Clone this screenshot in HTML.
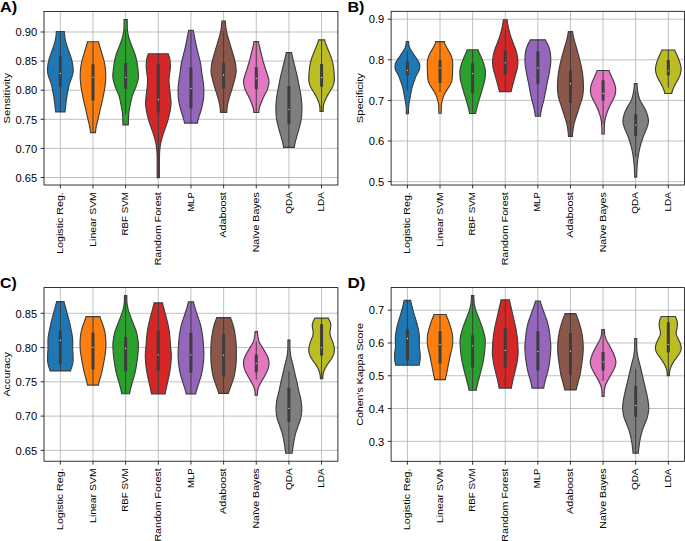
<!DOCTYPE html><html><head><meta charset="utf-8"><style>html,body{margin:0;padding:0;background:#fff;}svg{display:block;}text{font-family:"Liberation Sans",sans-serif;fill:#000;}</style></head><body>
<svg width="685" height="541" viewBox="0 0 685 541">
<rect width="685" height="541" fill="#fff"/>
<g stroke="#b0b0b0" stroke-width="0.8"><line x1="60.33" y1="11.40" x2="60.33" y2="185.00"/><line x1="92.98" y1="11.40" x2="92.98" y2="185.00"/><line x1="125.64" y1="11.40" x2="125.64" y2="185.00"/><line x1="158.29" y1="11.40" x2="158.29" y2="185.00"/><line x1="190.95" y1="11.40" x2="190.95" y2="185.00"/><line x1="223.61" y1="11.40" x2="223.61" y2="185.00"/><line x1="256.26" y1="11.40" x2="256.26" y2="185.00"/><line x1="288.92" y1="11.40" x2="288.92" y2="185.00"/><line x1="321.57" y1="11.40" x2="321.57" y2="185.00"/><line x1="44.00" y1="177.50" x2="337.90" y2="177.50"/><line x1="44.00" y1="148.40" x2="337.90" y2="148.40"/><line x1="44.00" y1="119.30" x2="337.90" y2="119.30"/><line x1="44.00" y1="90.20" x2="337.90" y2="90.20"/><line x1="44.00" y1="61.10" x2="337.90" y2="61.10"/><line x1="44.00" y1="32.00" x2="337.90" y2="32.00"/></g>
<path d="M64.31,31.50 64.34,32.30 64.39,33.11 64.45,33.91 64.53,34.72 64.62,35.52 64.72,36.33 64.83,37.13 64.95,37.94 65.08,38.74 65.23,39.55 65.40,40.36 65.59,41.16 65.79,41.97 66.02,42.77 66.26,43.58 66.51,44.38 66.76,45.19 67.02,45.99 67.29,46.80 67.55,47.60 67.82,48.41 68.10,49.21 68.38,50.02 68.67,50.82 68.97,51.62 69.27,52.43 69.57,53.23 69.86,54.04 70.15,54.84 70.43,55.65 70.70,56.45 70.96,57.26 71.20,58.06 71.44,58.87 71.67,59.67 71.88,60.48 72.07,61.28 72.25,62.09 72.42,62.90 72.56,63.70 72.70,64.50 72.82,65.31 72.92,66.12 73.01,66.92 73.08,67.72 73.13,68.53 73.16,69.34 73.17,70.14 73.14,70.94 73.08,71.75 72.99,72.56 72.88,73.36 72.73,74.16 72.55,74.97 72.33,75.78 72.07,76.58 71.79,77.39 71.49,78.19 71.19,79.00 70.89,79.80 70.59,80.61 70.31,81.41 70.02,82.22 69.75,83.02 69.49,83.83 69.25,84.63 69.04,85.44 68.84,86.24 68.67,87.05 68.51,87.85 68.35,88.66 68.20,89.46 68.04,90.27 67.89,91.07 67.73,91.88 67.57,92.68 67.41,93.49 67.25,94.29 67.10,95.09 66.96,95.90 66.82,96.70 66.70,97.51 66.58,98.31 66.47,99.12 66.37,99.92 66.27,100.73 66.17,101.54 66.07,102.34 65.98,103.15 65.88,103.95 65.79,104.76 65.69,105.56 65.59,106.37 65.50,107.17 65.40,107.98 65.31,108.78 65.21,109.59 65.13,110.39 65.05,111.20 65.00,112.00 L55.66,112.00 55.60,111.20 55.53,110.39 55.44,109.59 55.35,108.78 55.26,107.98 55.16,107.17 55.06,106.37 54.97,105.56 54.87,104.76 54.77,103.95 54.68,103.15 54.58,102.34 54.49,101.54 54.39,100.73 54.29,99.92 54.18,99.12 54.08,98.31 53.96,97.51 53.83,96.70 53.70,95.90 53.55,95.09 53.40,94.29 53.25,93.49 53.09,92.68 52.93,91.88 52.77,91.07 52.61,90.27 52.46,89.46 52.30,88.66 52.15,87.85 51.99,87.05 51.81,86.24 51.62,85.44 51.40,84.63 51.16,83.83 50.90,83.02 50.63,82.22 50.35,81.41 50.06,80.61 49.77,79.80 49.47,79.00 49.17,78.19 48.87,77.39 48.59,76.58 48.33,75.78 48.11,74.97 47.92,74.16 47.78,73.36 47.66,72.56 47.57,71.75 47.52,70.94 47.49,70.14 47.49,69.34 47.52,68.53 47.58,67.72 47.65,66.92 47.74,66.12 47.84,65.31 47.96,64.50 48.09,63.70 48.24,62.90 48.40,62.09 48.58,61.28 48.78,60.48 48.99,59.67 49.21,58.87 49.45,58.06 49.70,57.26 49.96,56.45 50.23,55.65 50.51,54.84 50.79,54.04 51.09,53.23 51.39,52.43 51.69,51.62 51.99,50.82 52.28,50.02 52.56,49.21 52.83,48.41 53.10,47.60 53.37,46.80 53.63,45.99 53.89,45.19 54.15,44.38 54.40,43.58 54.64,42.77 54.86,41.97 55.07,41.16 55.26,40.36 55.43,39.55 55.57,38.74 55.71,37.94 55.83,37.13 55.94,36.33 56.04,35.52 56.13,34.72 56.20,33.91 56.27,33.11 56.31,32.30 56.34,31.50Z" fill="#1f77b4" stroke="#3d3d3d" stroke-width="1.15" stroke-linejoin="miter"/>
<line x1="60.33" y1="31.50" x2="60.33" y2="112.00" stroke="#3d3d3d" stroke-width="1.0"/>
<rect x="58.83" y="55.70" width="3" height="30.90" fill="#3d3d3d"/>
<circle cx="60.33" cy="73.40" r="0.65" fill="#e8e8e8"/>
<path d="M98.55,41.75 98.70,42.55 98.88,43.36 99.10,44.16 99.33,44.97 99.56,45.77 99.80,46.57 100.04,47.38 100.28,48.18 100.52,48.99 100.76,49.79 101.00,50.59 101.24,51.40 101.48,52.20 101.71,53.01 101.95,53.81 102.19,54.61 102.43,55.42 102.68,56.22 102.92,57.03 103.16,57.83 103.40,58.63 103.62,59.44 103.84,60.24 104.04,61.05 104.23,61.85 104.41,62.65 104.57,63.46 104.73,64.26 104.88,65.07 105.02,65.87 105.15,66.67 105.26,67.48 105.35,68.28 105.43,69.09 105.50,69.89 105.56,70.69 105.60,71.50 105.65,72.30 105.68,73.11 105.71,73.91 105.74,74.71 105.76,75.52 105.76,76.32 105.76,77.13 105.74,77.93 105.71,78.73 105.67,79.54 105.62,80.34 105.56,81.15 105.49,81.95 105.42,82.75 105.34,83.56 105.25,84.36 105.16,85.17 105.06,85.97 104.95,86.77 104.82,87.58 104.69,88.38 104.56,89.18 104.41,89.99 104.27,90.79 104.12,91.60 103.97,92.40 103.82,93.20 103.67,94.01 103.51,94.81 103.36,95.62 103.20,96.42 103.04,97.22 102.87,98.03 102.70,98.83 102.53,99.64 102.35,100.44 102.17,101.24 101.99,102.05 101.79,102.85 101.60,103.66 101.40,104.46 101.20,105.26 101.00,106.07 100.81,106.87 100.62,107.68 100.43,108.48 100.25,109.28 100.07,110.09 99.90,110.89 99.73,111.70 99.56,112.50 99.38,113.30 99.21,114.11 99.03,114.91 98.85,115.72 98.66,116.52 98.47,117.32 98.27,118.13 98.07,118.93 97.88,119.74 97.68,120.54 97.48,121.34 97.29,122.15 97.09,122.95 96.90,123.76 96.71,124.56 96.52,125.36 96.35,126.17 96.18,126.97 96.03,127.78 95.91,128.58 95.80,129.38 95.70,130.19 95.63,130.99 95.57,131.80 95.53,132.60 L90.44,132.60 90.40,131.80 90.34,130.99 90.26,130.19 90.17,129.38 90.06,128.58 89.93,127.78 89.79,126.97 89.62,126.17 89.44,125.36 89.26,124.56 89.07,123.76 88.87,122.95 88.68,122.15 88.49,121.34 88.29,120.54 88.09,119.74 87.89,118.93 87.69,118.13 87.50,117.32 87.31,116.52 87.12,115.72 86.94,114.91 86.76,114.11 86.58,113.30 86.41,112.50 86.24,111.70 86.07,110.89 85.89,110.09 85.72,109.28 85.54,108.48 85.35,107.68 85.16,106.87 84.97,106.07 84.77,105.26 84.57,104.46 84.37,103.66 84.17,102.85 83.98,102.05 83.79,101.24 83.61,100.44 83.44,99.64 83.26,98.83 83.09,98.03 82.93,97.22 82.77,96.42 82.61,95.62 82.45,94.81 82.30,94.01 82.15,93.20 82.00,92.40 81.85,91.60 81.70,90.79 81.55,89.99 81.41,89.18 81.27,88.38 81.14,87.58 81.02,86.77 80.91,85.97 80.81,85.17 80.71,84.36 80.63,83.56 80.55,82.75 80.48,81.95 80.41,81.15 80.35,80.34 80.30,79.54 80.26,78.73 80.23,77.93 80.21,77.13 80.20,76.32 80.21,75.52 80.23,74.71 80.25,73.91 80.28,73.11 80.32,72.30 80.36,71.50 80.41,70.69 80.47,69.89 80.53,69.09 80.61,68.28 80.71,67.48 80.82,66.67 80.95,65.87 81.08,65.07 81.23,64.26 81.39,63.46 81.56,62.65 81.74,61.85 81.93,61.05 82.13,60.24 82.34,59.44 82.57,58.63 82.81,57.83 83.05,57.03 83.29,56.22 83.53,55.42 83.77,54.61 84.01,53.81 84.25,53.01 84.49,52.20 84.73,51.40 84.97,50.59 85.21,49.79 85.45,48.99 85.69,48.18 85.93,47.38 86.17,46.57 86.40,45.77 86.64,44.97 86.87,44.16 87.08,43.36 87.27,42.55 87.41,41.75Z" fill="#ff7f0e" stroke="#3d3d3d" stroke-width="1.15" stroke-linejoin="miter"/>
<line x1="92.98" y1="41.75" x2="92.98" y2="132.60" stroke="#3d3d3d" stroke-width="1.0"/>
<rect x="91.48" y="64.30" width="3" height="36.30" fill="#3d3d3d"/>
<circle cx="92.98" cy="77.30" r="0.65" fill="#e8e8e8"/>
<path d="M127.24,19.55 127.24,20.35 127.24,21.16 127.24,21.96 127.24,22.76 127.24,23.57 127.24,24.37 127.24,25.17 127.25,25.98 127.26,26.78 127.28,27.58 127.32,28.39 127.38,29.19 127.45,29.99 127.55,30.80 127.67,31.60 127.80,32.40 127.93,33.21 128.08,34.01 128.24,34.82 128.40,35.62 128.58,36.42 128.78,37.23 129.00,38.03 129.23,38.83 129.49,39.64 129.76,40.44 130.04,41.24 130.33,42.05 130.62,42.85 130.92,43.65 131.22,44.46 131.52,45.26 131.84,46.06 132.16,46.87 132.48,47.67 132.82,48.47 133.15,49.28 133.48,50.08 133.80,50.88 134.11,51.69 134.40,52.49 134.68,53.29 134.94,54.10 135.19,54.90 135.42,55.70 135.65,56.51 135.87,57.31 136.08,58.11 136.28,58.92 136.47,59.72 136.64,60.53 136.80,61.33 136.95,62.13 137.09,62.94 137.22,63.74 137.34,64.54 137.45,65.35 137.55,66.15 137.65,66.95 137.75,67.76 137.84,68.56 137.93,69.36 138.01,70.17 138.10,70.97 138.18,71.77 138.27,72.58 138.34,73.38 138.41,74.18 138.45,74.99 138.47,75.79 138.45,76.59 138.40,77.40 138.30,78.20 138.17,79.00 138.01,79.81 137.82,80.61 137.61,81.41 137.39,82.22 137.15,83.02 136.90,83.82 136.66,84.63 136.40,85.43 136.13,86.24 135.85,87.04 135.55,87.84 135.23,88.65 134.89,89.45 134.54,90.25 134.18,91.06 133.83,91.86 133.48,92.66 133.15,93.47 132.84,94.27 132.55,95.07 132.29,95.88 132.05,96.68 131.83,97.48 131.62,98.29 131.43,99.09 131.24,99.89 131.06,100.70 130.89,101.50 130.73,102.30 130.57,103.11 130.41,103.91 130.26,104.71 130.11,105.52 129.96,106.32 129.81,107.12 129.66,107.93 129.51,108.73 129.37,109.53 129.23,110.34 129.10,111.14 128.98,111.95 128.87,112.75 128.78,113.55 128.71,114.36 128.65,115.16 128.60,115.96 128.56,116.77 128.52,117.57 128.49,118.37 128.46,119.18 128.43,119.98 128.41,120.78 128.39,121.59 128.37,122.39 128.36,123.19 128.35,124.00 128.34,124.80 L122.93,124.80 122.93,124.00 122.92,123.19 122.91,122.39 122.89,121.59 122.87,120.78 122.85,119.98 122.82,119.18 122.79,118.37 122.76,117.57 122.72,116.77 122.68,115.96 122.63,115.16 122.57,114.36 122.49,113.55 122.41,112.75 122.30,111.95 122.18,111.14 122.05,110.34 121.91,109.53 121.77,108.73 121.62,107.93 121.47,107.12 121.32,106.32 121.17,105.52 121.02,104.71 120.87,103.91 120.71,103.11 120.55,102.30 120.39,101.50 120.21,100.70 120.04,99.89 119.85,99.09 119.65,98.29 119.45,97.48 119.23,96.68 118.99,95.88 118.73,95.07 118.44,94.27 118.13,93.47 117.80,92.66 117.45,91.86 117.10,91.06 116.74,90.25 116.39,89.45 116.05,88.65 115.72,87.84 115.42,87.04 115.14,86.24 114.88,85.43 114.62,84.63 114.37,83.82 114.13,83.02 113.89,82.22 113.67,81.41 113.46,80.61 113.27,79.81 113.11,79.00 112.98,78.20 112.88,77.40 112.83,76.59 112.81,75.79 112.82,74.99 112.87,74.18 112.93,73.38 113.01,72.58 113.10,71.77 113.18,70.97 113.27,70.17 113.35,69.36 113.44,68.56 113.53,67.76 113.62,66.95 113.72,66.15 113.83,65.35 113.94,64.54 114.06,63.74 114.19,62.94 114.32,62.13 114.47,61.33 114.64,60.53 114.81,59.72 115.00,58.92 115.20,58.11 115.41,57.31 115.63,56.51 115.85,55.70 116.09,54.90 116.34,54.10 116.60,53.29 116.88,52.49 117.17,51.69 117.48,50.88 117.80,50.08 118.13,49.28 118.46,48.47 118.79,47.67 119.12,46.87 119.44,46.06 119.75,45.26 120.06,44.46 120.36,43.65 120.65,42.85 120.95,42.05 121.24,41.24 121.52,40.44 121.79,39.64 122.05,38.83 122.28,38.03 122.50,37.23 122.69,36.42 122.87,35.62 123.04,34.82 123.20,34.01 123.34,33.21 123.48,32.40 123.61,31.60 123.72,30.80 123.82,29.99 123.90,29.19 123.96,28.39 124.00,27.58 124.02,26.78 124.03,25.98 124.04,25.17 124.04,24.37 124.04,23.57 124.04,22.76 124.04,21.96 124.04,21.16 124.04,20.35 124.04,19.55Z" fill="#2ca02c" stroke="#3d3d3d" stroke-width="1.15" stroke-linejoin="miter"/>
<line x1="125.64" y1="29.30" x2="125.64" y2="113.90" stroke="#3d3d3d" stroke-width="1.0"/>
<rect x="124.14" y="62.90" width="3" height="26.10" fill="#3d3d3d"/>
<circle cx="125.64" cy="77.30" r="0.65" fill="#e8e8e8"/>
<path d="M168.26,53.75 168.47,54.55 168.73,55.36 169.01,56.16 169.28,56.97 169.52,57.77 169.71,58.58 169.86,59.38 169.98,60.18 170.07,60.99 170.15,61.79 170.21,62.60 170.27,63.40 170.31,64.20 170.34,65.01 170.36,65.81 170.35,66.62 170.33,67.42 170.28,68.23 170.22,69.03 170.13,69.83 170.04,70.64 169.93,71.44 169.82,72.25 169.72,73.05 169.61,73.86 169.51,74.66 169.40,75.46 169.30,76.27 169.20,77.07 169.11,77.88 169.03,78.68 168.98,79.49 168.95,80.29 168.95,81.09 168.97,81.90 169.02,82.70 169.08,83.51 169.16,84.31 169.24,85.11 169.33,85.92 169.42,86.72 169.50,87.53 169.59,88.33 169.69,89.14 169.78,89.94 169.88,90.74 169.98,91.55 170.07,92.35 170.16,93.16 170.25,93.96 170.33,94.77 170.41,95.57 170.49,96.37 170.57,97.18 170.65,97.98 170.74,98.79 170.82,99.59 170.91,100.39 170.98,101.20 171.02,102.00 171.03,102.81 171.01,103.61 170.97,104.42 170.90,105.22 170.82,106.02 170.73,106.83 170.63,107.63 170.52,108.44 170.40,109.24 170.28,110.05 170.15,110.85 170.00,111.65 169.84,112.46 169.67,113.26 169.49,114.07 169.30,114.87 169.11,115.67 168.91,116.48 168.71,117.28 168.50,118.09 168.28,118.89 168.05,119.70 167.81,120.50 167.57,121.30 167.32,122.11 167.07,122.91 166.81,123.72 166.54,124.52 166.26,125.33 165.98,126.13 165.69,126.93 165.40,127.74 165.11,128.54 164.82,129.35 164.53,130.15 164.25,130.96 163.97,131.76 163.70,132.56 163.43,133.37 163.16,134.17 162.90,134.98 162.65,135.78 162.40,136.58 162.16,137.39 161.94,138.19 161.72,139.00 161.51,139.80 161.31,140.61 161.11,141.41 160.93,142.21 160.76,143.02 160.60,143.82 160.46,144.63 160.33,145.43 160.21,146.24 160.11,147.04 160.01,147.84 159.92,148.65 159.84,149.45 159.77,150.26 159.71,151.06 159.65,151.86 159.61,152.67 159.57,153.47 159.53,154.28 159.50,155.08 159.48,155.89 159.45,156.69 159.43,157.49 159.42,158.30 159.41,159.10 159.40,159.91 159.40,160.71 159.40,161.52 159.39,162.32 159.39,163.12 159.39,163.93 159.39,164.73 159.39,165.54 159.39,166.34 159.39,167.15 159.39,167.95 159.39,168.75 159.39,169.56 159.39,170.36 159.39,171.17 159.39,171.97 159.39,172.77 159.39,173.58 159.39,174.38 159.39,175.19 159.39,175.99 159.39,176.80 159.39,177.60 L157.19,177.60 157.19,176.80 157.19,175.99 157.19,175.19 157.19,174.38 157.19,173.58 157.19,172.77 157.19,171.97 157.19,171.17 157.19,170.36 157.19,169.56 157.19,168.75 157.19,167.95 157.19,167.15 157.19,166.34 157.19,165.54 157.19,164.73 157.19,163.93 157.19,163.12 157.19,162.32 157.19,161.52 157.19,160.71 157.19,159.91 157.18,159.10 157.17,158.30 157.16,157.49 157.14,156.69 157.11,155.89 157.09,155.08 157.06,154.28 157.02,153.47 156.98,152.67 156.94,151.86 156.88,151.06 156.82,150.26 156.75,149.45 156.67,148.65 156.58,147.84 156.48,147.04 156.38,146.24 156.26,145.43 156.13,144.63 155.99,143.82 155.83,143.02 155.66,142.21 155.48,141.41 155.28,140.61 155.08,139.80 154.87,139.00 154.65,138.19 154.42,137.39 154.19,136.58 153.94,135.78 153.69,134.98 153.43,134.17 153.16,133.37 152.89,132.56 152.61,131.76 152.34,130.96 152.06,130.15 151.77,129.35 151.48,128.54 151.19,127.74 150.90,126.93 150.61,126.13 150.32,125.33 150.05,124.52 149.78,123.72 149.52,122.91 149.27,122.11 149.02,121.30 148.78,120.50 148.54,119.70 148.31,118.89 148.09,118.09 147.88,117.28 147.67,116.48 147.48,115.67 147.28,114.87 147.10,114.07 146.92,113.26 146.75,112.46 146.59,111.65 146.44,110.85 146.31,110.05 146.19,109.24 146.07,108.44 145.96,107.63 145.86,106.83 145.77,106.02 145.69,105.22 145.62,104.42 145.58,103.61 145.56,102.81 145.57,102.00 145.61,101.20 145.68,100.39 145.76,99.59 145.85,98.79 145.94,97.98 146.02,97.18 146.10,96.37 146.18,95.57 146.26,94.77 146.34,93.96 146.43,93.16 146.52,92.35 146.61,91.55 146.71,90.74 146.81,89.94 146.90,89.14 146.99,88.33 147.09,87.53 147.17,86.72 147.26,85.92 147.35,85.11 147.43,84.31 147.50,83.51 147.57,82.70 147.61,81.90 147.64,81.09 147.64,80.29 147.61,79.49 147.56,78.68 147.48,77.88 147.39,77.07 147.29,76.27 147.19,75.46 147.08,74.66 146.98,73.86 146.87,73.05 146.76,72.25 146.66,71.44 146.55,70.64 146.46,69.83 146.37,69.03 146.30,68.23 146.26,67.42 146.23,66.62 146.23,65.81 146.25,65.01 146.28,64.20 146.32,63.40 146.38,62.60 146.44,61.79 146.52,60.99 146.61,60.18 146.73,59.38 146.88,58.58 147.07,57.77 147.31,56.97 147.58,56.16 147.86,55.36 148.12,54.55 148.33,53.75Z" fill="#d62728" stroke="#3d3d3d" stroke-width="1.15" stroke-linejoin="miter"/>
<line x1="158.29" y1="53.75" x2="158.29" y2="177.60" stroke="#3d3d3d" stroke-width="1.0"/>
<rect x="156.79" y="63.90" width="3" height="48.70" fill="#3d3d3d"/>
<circle cx="158.29" cy="99.50" r="0.65" fill="#e8e8e8"/>
<path d="M193.31,30.25 193.41,31.05 193.53,31.85 193.68,32.65 193.83,33.45 193.99,34.25 194.14,35.05 194.30,35.85 194.45,36.65 194.61,37.45 194.76,38.25 194.92,39.05 195.07,39.86 195.23,40.66 195.39,41.46 195.54,42.26 195.71,43.06 195.87,43.86 196.04,44.66 196.21,45.46 196.39,46.26 196.58,47.06 196.76,47.86 196.95,48.66 197.14,49.46 197.34,50.26 197.53,51.06 197.73,51.86 197.93,52.66 198.12,53.46 198.32,54.26 198.52,55.06 198.72,55.86 198.92,56.66 199.13,57.46 199.34,58.27 199.55,59.07 199.75,59.87 199.95,60.67 200.13,61.47 200.31,62.27 200.48,63.07 200.63,63.87 200.77,64.67 200.90,65.47 201.01,66.27 201.12,67.07 201.22,67.87 201.32,68.67 201.41,69.47 201.50,70.27 201.59,71.07 201.69,71.87 201.79,72.67 201.89,73.47 202.00,74.27 202.12,75.07 202.25,75.87 202.38,76.68 202.51,77.48 202.64,78.28 202.77,79.08 202.89,79.88 203.00,80.68 203.11,81.48 203.22,82.28 203.31,83.08 203.41,83.88 203.50,84.68 203.59,85.48 203.66,86.28 203.73,87.08 203.78,87.88 203.81,88.68 203.83,89.48 203.83,90.28 203.83,91.08 203.82,91.88 203.80,92.68 203.78,93.48 203.76,94.28 203.73,95.08 203.69,95.89 203.65,96.69 203.60,97.49 203.53,98.29 203.44,99.09 203.33,99.89 203.21,100.69 203.07,101.49 202.92,102.29 202.77,103.09 202.61,103.89 202.44,104.69 202.26,105.49 202.08,106.29 201.88,107.09 201.68,107.89 201.46,108.69 201.24,109.49 201.01,110.29 200.78,111.09 200.54,111.89 200.30,112.69 200.05,113.49 199.80,114.30 199.54,115.10 199.28,115.90 199.03,116.70 198.78,117.50 198.54,118.30 198.31,119.10 198.09,119.90 197.88,120.70 197.68,121.50 197.52,122.30 197.40,123.10 L184.50,123.10 184.38,122.30 184.22,121.50 184.02,120.70 183.81,119.90 183.59,119.10 183.36,118.30 183.12,117.50 182.87,116.70 182.62,115.90 182.36,115.10 182.10,114.30 181.85,113.49 181.60,112.69 181.36,111.89 181.12,111.09 180.89,110.29 180.66,109.49 180.44,108.69 180.22,107.89 180.02,107.09 179.82,106.29 179.64,105.49 179.46,104.69 179.29,103.89 179.13,103.09 178.98,102.29 178.83,101.49 178.69,100.69 178.57,99.89 178.46,99.09 178.37,98.29 178.30,97.49 178.25,96.69 178.21,95.89 178.17,95.08 178.14,94.28 178.12,93.48 178.10,92.68 178.08,91.88 178.07,91.08 178.07,90.28 178.07,89.48 178.09,88.68 178.12,87.88 178.17,87.08 178.24,86.28 178.31,85.48 178.40,84.68 178.49,83.88 178.59,83.08 178.68,82.28 178.79,81.48 178.90,80.68 179.01,79.88 179.13,79.08 179.26,78.28 179.39,77.48 179.52,76.68 179.65,75.87 179.78,75.07 179.90,74.27 180.01,73.47 180.11,72.67 180.21,71.87 180.31,71.07 180.40,70.27 180.49,69.47 180.58,68.67 180.68,67.87 180.78,67.07 180.89,66.27 181.00,65.47 181.13,64.67 181.27,63.87 181.42,63.07 181.59,62.27 181.77,61.47 181.95,60.67 182.15,59.87 182.35,59.07 182.56,58.27 182.77,57.46 182.98,56.66 183.18,55.86 183.38,55.06 183.58,54.26 183.78,53.46 183.97,52.66 184.17,51.86 184.37,51.06 184.56,50.26 184.76,49.46 184.95,48.66 185.14,47.86 185.32,47.06 185.51,46.26 185.69,45.46 185.86,44.66 186.03,43.86 186.19,43.06 186.36,42.26 186.51,41.46 186.67,40.66 186.83,39.86 186.98,39.05 187.14,38.25 187.29,37.45 187.45,36.65 187.60,35.85 187.76,35.05 187.91,34.25 188.07,33.45 188.22,32.65 188.37,31.85 188.49,31.05 188.59,30.25Z" fill="#9467bd" stroke="#3d3d3d" stroke-width="1.15" stroke-linejoin="miter"/>
<line x1="190.95" y1="30.25" x2="190.95" y2="123.10" stroke="#3d3d3d" stroke-width="1.0"/>
<rect x="189.45" y="67.30" width="3" height="41.10" fill="#3d3d3d"/>
<circle cx="190.95" cy="88.40" r="0.65" fill="#e8e8e8"/>
<path d="M225.33,20.95 225.35,21.75 225.39,22.55 225.43,23.36 225.49,24.16 225.56,24.96 225.64,25.76 225.72,26.57 225.83,27.37 225.94,28.17 226.07,28.97 226.22,29.77 226.38,30.58 226.55,31.38 226.72,32.18 226.91,32.98 227.09,33.79 227.29,34.59 227.48,35.39 227.69,36.19 227.91,36.99 228.13,37.80 228.36,38.60 228.59,39.40 228.83,40.20 229.06,41.00 229.30,41.81 229.54,42.61 229.78,43.41 230.02,44.21 230.27,45.02 230.52,45.82 230.76,46.62 231.01,47.42 231.26,48.22 231.50,49.03 231.74,49.83 231.98,50.63 232.22,51.43 232.46,52.24 232.70,53.04 232.94,53.84 233.17,54.64 233.39,55.44 233.62,56.25 233.84,57.05 234.05,57.85 234.27,58.65 234.49,59.46 234.70,60.26 234.90,61.06 235.10,61.86 235.27,62.66 235.43,63.47 235.57,64.27 235.69,65.07 235.79,65.87 235.88,66.67 235.96,67.48 236.02,68.28 236.08,69.08 236.13,69.88 236.15,70.69 236.15,71.49 236.12,72.29 236.05,73.09 235.95,73.89 235.81,74.70 235.65,75.50 235.47,76.30 235.28,77.10 235.08,77.91 234.88,78.71 234.68,79.51 234.48,80.31 234.28,81.11 234.07,81.92 233.85,82.72 233.63,83.52 233.41,84.32 233.18,85.13 232.94,85.93 232.71,86.73 232.47,87.53 232.22,88.33 231.97,89.14 231.72,89.94 231.46,90.74 231.20,91.54 230.95,92.35 230.69,93.15 230.44,93.95 230.19,94.75 229.94,95.55 229.70,96.36 229.45,97.16 229.21,97.96 228.97,98.76 228.74,99.56 228.52,100.37 228.31,101.17 228.12,101.97 227.94,102.77 227.77,103.58 227.61,104.38 227.46,105.18 227.32,105.98 227.20,106.78 227.09,107.59 227.00,108.39 226.93,109.19 226.87,109.99 226.82,110.80 226.79,111.60 226.77,112.40 L220.44,112.40 220.42,111.60 220.39,110.80 220.34,109.99 220.29,109.19 220.21,108.39 220.12,107.59 220.01,106.78 219.89,105.98 219.75,105.18 219.60,104.38 219.44,103.58 219.27,102.77 219.09,101.97 218.90,101.17 218.69,100.37 218.47,99.56 218.24,98.76 218.01,97.96 217.76,97.16 217.52,96.36 217.27,95.55 217.02,94.75 216.77,93.95 216.52,93.15 216.26,92.35 216.01,91.54 215.75,90.74 215.49,89.94 215.24,89.14 214.99,88.33 214.74,87.53 214.50,86.73 214.27,85.93 214.03,85.13 213.80,84.32 213.58,83.52 213.36,82.72 213.14,81.92 212.93,81.11 212.73,80.31 212.53,79.51 212.33,78.71 212.13,77.91 211.93,77.10 211.74,76.30 211.56,75.50 211.40,74.70 211.26,73.89 211.16,73.09 211.09,72.29 211.06,71.49 211.06,70.69 211.09,69.88 211.13,69.08 211.19,68.28 211.26,67.48 211.33,66.67 211.42,65.87 211.53,65.07 211.64,64.27 211.78,63.47 211.94,62.66 212.11,61.86 212.31,61.06 212.51,60.26 212.72,59.46 212.94,58.65 213.16,57.85 213.37,57.05 213.59,56.25 213.82,55.44 214.04,54.64 214.28,53.84 214.51,53.04 214.75,52.24 214.99,51.43 215.23,50.63 215.47,49.83 215.71,49.03 215.96,48.22 216.20,47.42 216.45,46.62 216.69,45.82 216.94,45.02 217.19,44.21 217.43,43.41 217.67,42.61 217.91,41.81 218.15,41.00 218.39,40.20 218.62,39.40 218.85,38.60 219.08,37.80 219.30,36.99 219.52,36.19 219.73,35.39 219.93,34.59 220.12,33.79 220.31,32.98 220.49,32.18 220.67,31.38 220.83,30.58 220.99,29.77 221.14,28.97 221.27,28.17 221.39,27.37 221.49,26.57 221.57,25.76 221.65,24.96 221.72,24.16 221.78,23.36 221.82,22.55 221.86,21.75 221.88,20.95Z" fill="#8c564b" stroke="#3d3d3d" stroke-width="1.15" stroke-linejoin="miter"/>
<line x1="223.61" y1="30.90" x2="223.61" y2="112.40" stroke="#3d3d3d" stroke-width="1.0"/>
<rect x="222.11" y="62.90" width="3" height="25.60" fill="#3d3d3d"/>
<circle cx="223.61" cy="75.00" r="0.65" fill="#e8e8e8"/>
<path d="M258.57,41.55 258.67,42.36 258.79,43.16 258.94,43.97 259.11,44.77 259.28,45.58 259.46,46.39 259.64,47.19 259.84,48.00 260.03,48.81 260.24,49.61 260.45,50.42 260.65,51.22 260.86,52.03 261.06,52.84 261.26,53.64 261.46,54.45 261.65,55.26 261.84,56.06 262.04,56.87 262.23,57.67 262.43,58.48 262.63,59.29 262.85,60.09 263.06,60.90 263.29,61.71 263.52,62.51 263.76,63.32 264.00,64.12 264.24,64.93 264.49,65.74 264.74,66.54 264.99,67.35 265.25,68.16 265.51,68.96 265.77,69.77 266.04,70.58 266.31,71.38 266.58,72.19 266.84,72.99 267.09,73.80 267.34,74.61 267.60,75.41 267.85,76.22 268.10,77.03 268.33,77.83 268.55,78.64 268.73,79.44 268.86,80.25 268.94,81.06 268.96,81.86 268.92,82.67 268.84,83.47 268.73,84.28 268.58,85.09 268.40,85.89 268.21,86.70 267.99,87.51 267.75,88.31 267.49,89.12 267.18,89.92 266.84,90.73 266.45,91.54 266.03,92.34 265.60,93.15 265.16,93.96 264.73,94.76 264.31,95.57 263.91,96.38 263.53,97.18 263.17,97.99 262.81,98.79 262.47,99.60 262.13,100.41 261.80,101.21 261.47,102.02 261.16,102.82 260.85,103.63 260.54,104.44 260.24,105.24 259.95,106.05 259.68,106.86 259.44,107.66 259.23,108.47 259.07,109.28 258.94,110.08 258.85,110.89 258.79,111.69 258.75,112.50 L253.78,112.50 253.74,111.69 253.67,110.89 253.58,110.08 253.45,109.28 253.29,108.47 253.08,107.66 252.84,106.86 252.57,106.05 252.28,105.24 251.98,104.44 251.67,103.63 251.36,102.82 251.05,102.02 250.73,101.21 250.40,100.41 250.06,99.60 249.71,98.79 249.35,97.99 248.99,97.18 248.61,96.38 248.21,95.57 247.79,94.76 247.36,93.96 246.92,93.15 246.49,92.34 246.07,91.54 245.69,90.73 245.34,89.92 245.03,89.12 244.77,88.31 244.53,87.51 244.32,86.70 244.12,85.89 243.95,85.09 243.80,84.28 243.68,83.47 243.60,82.67 243.56,81.86 243.58,81.06 243.66,80.25 243.79,79.44 243.97,78.64 244.19,77.83 244.43,77.03 244.68,76.22 244.93,75.41 245.18,74.61 245.43,73.80 245.69,72.99 245.95,72.19 246.21,71.38 246.48,70.58 246.75,69.77 247.01,68.96 247.28,68.16 247.53,67.35 247.79,66.54 248.04,65.74 248.28,64.93 248.53,64.12 248.77,63.32 249.00,62.51 249.23,61.71 249.46,60.90 249.68,60.09 249.89,59.29 250.09,58.48 250.29,57.67 250.49,56.87 250.68,56.06 250.87,55.26 251.07,54.45 251.26,53.64 251.46,52.84 251.66,52.03 251.87,51.22 252.08,50.42 252.28,49.61 252.49,48.81 252.69,48.00 252.88,47.19 253.07,46.39 253.24,45.58 253.42,44.77 253.58,43.97 253.73,43.16 253.85,42.36 253.95,41.55Z" fill="#e377c2" stroke="#3d3d3d" stroke-width="1.15" stroke-linejoin="miter"/>
<line x1="256.26" y1="41.55" x2="256.26" y2="112.50" stroke="#3d3d3d" stroke-width="1.0"/>
<rect x="254.76" y="67.20" width="3" height="22.00" fill="#3d3d3d"/>
<circle cx="256.26" cy="78.40" r="0.65" fill="#e8e8e8"/>
<path d="M291.56,52.55 291.67,53.35 291.82,54.16 292.00,54.96 292.19,55.77 292.38,56.57 292.57,57.37 292.77,58.18 292.96,58.98 293.16,59.78 293.36,60.59 293.56,61.39 293.76,62.20 293.96,63.00 294.16,63.80 294.36,64.61 294.56,65.41 294.75,66.21 294.95,67.02 295.15,67.82 295.35,68.63 295.55,69.43 295.74,70.23 295.94,71.04 296.14,71.84 296.34,72.65 296.53,73.45 296.72,74.25 296.91,75.06 297.10,75.86 297.28,76.66 297.46,77.47 297.63,78.27 297.80,79.08 297.96,79.88 298.12,80.68 298.28,81.49 298.43,82.29 298.58,83.09 298.74,83.90 298.89,84.70 299.04,85.51 299.19,86.31 299.34,87.11 299.50,87.92 299.66,88.72 299.82,89.53 299.98,90.33 300.14,91.13 300.29,91.94 300.44,92.74 300.59,93.54 300.72,94.35 300.85,95.15 300.97,95.96 301.07,96.76 301.17,97.56 301.27,98.37 301.35,99.17 301.43,99.97 301.51,100.78 301.58,101.58 301.65,102.39 301.71,103.19 301.77,103.99 301.83,104.80 301.88,105.60 301.91,106.41 301.94,107.21 301.94,108.01 301.94,108.82 301.93,109.62 301.91,110.42 301.88,111.23 301.84,112.03 301.80,112.84 301.76,113.64 301.71,114.44 301.65,115.25 301.59,116.05 301.52,116.86 301.44,117.66 301.34,118.46 301.23,119.27 301.09,120.07 300.94,120.87 300.76,121.68 300.58,122.48 300.39,123.29 300.19,124.09 299.99,124.89 299.79,125.70 299.59,126.50 299.38,127.30 299.18,128.11 298.96,128.91 298.74,129.72 298.51,130.52 298.28,131.32 298.05,132.13 297.82,132.93 297.58,133.74 297.35,134.54 297.12,135.34 296.89,136.15 296.66,136.95 296.44,137.75 296.21,138.56 295.98,139.36 295.77,140.17 295.55,140.97 295.35,141.77 295.16,142.58 294.98,143.38 294.81,144.18 294.65,144.99 294.52,145.79 294.40,146.60 294.32,147.40 L283.52,147.40 283.43,146.60 283.32,145.79 283.18,144.99 283.03,144.18 282.86,143.38 282.68,142.58 282.48,141.77 282.28,140.97 282.07,140.17 281.85,139.36 281.62,138.56 281.40,137.75 281.17,136.95 280.94,136.15 280.71,135.34 280.48,134.54 280.25,133.74 280.02,132.93 279.78,132.13 279.55,131.32 279.32,130.52 279.09,129.72 278.87,128.91 278.66,128.11 278.45,127.30 278.24,126.50 278.04,125.70 277.84,124.89 277.64,124.09 277.44,123.29 277.25,122.48 277.07,121.68 276.90,120.87 276.74,120.07 276.61,119.27 276.49,118.46 276.39,117.66 276.31,116.86 276.24,116.05 276.18,115.25 276.13,114.44 276.08,113.64 276.03,112.84 275.99,112.03 275.96,111.23 275.93,110.42 275.91,109.62 275.89,108.82 275.89,108.01 275.90,107.21 275.92,106.41 275.96,105.60 276.00,104.80 276.06,103.99 276.12,103.19 276.19,102.39 276.25,101.58 276.33,100.78 276.40,99.97 276.48,99.17 276.57,98.37 276.66,97.56 276.76,96.76 276.87,95.96 276.98,95.15 277.11,94.35 277.25,93.54 277.39,92.74 277.54,91.94 277.70,91.13 277.86,90.33 278.02,89.53 278.18,88.72 278.33,87.92 278.49,87.11 278.64,86.31 278.80,85.51 278.95,84.70 279.10,83.90 279.25,83.09 279.40,82.29 279.56,81.49 279.71,80.68 279.87,79.88 280.04,79.08 280.20,78.27 280.38,77.47 280.55,76.66 280.73,75.86 280.92,75.06 281.11,74.25 281.30,73.45 281.50,72.65 281.69,71.84 281.89,71.04 282.09,70.23 282.29,69.43 282.49,68.63 282.68,67.82 282.88,67.02 283.08,66.21 283.28,65.41 283.48,64.61 283.68,63.80 283.88,63.00 284.08,62.20 284.28,61.39 284.47,60.59 284.67,59.78 284.87,58.98 285.06,58.18 285.26,57.37 285.45,56.57 285.65,55.77 285.83,54.96 286.01,54.16 286.16,53.35 286.28,52.55Z" fill="#7f7f7f" stroke="#3d3d3d" stroke-width="1.15" stroke-linejoin="miter"/>
<line x1="288.92" y1="52.55" x2="288.92" y2="147.40" stroke="#3d3d3d" stroke-width="1.0"/>
<rect x="287.42" y="86.00" width="3" height="38.10" fill="#3d3d3d"/>
<circle cx="288.92" cy="109.30" r="0.65" fill="#e8e8e8"/>
<path d="M324.65,39.85 324.81,40.66 325.02,41.46 325.26,42.27 325.52,43.07 325.80,43.88 326.10,44.68 326.40,45.49 326.71,46.29 327.04,47.10 327.37,47.90 327.70,48.71 328.03,49.51 328.36,50.32 328.69,51.12 329.02,51.93 329.35,52.73 329.67,53.54 330.00,54.34 330.32,55.15 330.63,55.95 330.93,56.76 331.21,57.56 331.48,58.37 331.74,59.17 331.97,59.98 332.20,60.78 332.41,61.59 332.62,62.39 332.81,63.20 332.99,64.00 333.15,64.81 333.29,65.61 333.42,66.42 333.53,67.22 333.63,68.03 333.72,68.83 333.81,69.64 333.88,70.44 333.95,71.25 334.02,72.05 334.08,72.86 334.15,73.66 334.21,74.47 334.27,75.27 334.33,76.08 334.37,76.88 334.41,77.69 334.42,78.49 334.40,79.30 334.35,80.10 334.26,80.91 334.14,81.71 333.98,82.52 333.80,83.32 333.59,84.13 333.34,84.93 333.05,85.74 332.70,86.54 332.30,87.35 331.86,88.15 331.40,88.96 330.93,89.76 330.45,90.57 329.98,91.37 329.50,92.18 329.02,92.98 328.54,93.79 328.07,94.59 327.61,95.40 327.17,96.20 326.74,97.01 326.33,97.81 325.93,98.62 325.56,99.42 325.20,100.23 324.87,101.03 324.57,101.84 324.30,102.64 324.05,103.45 323.82,104.25 323.62,105.06 323.46,105.86 323.33,106.67 323.25,107.47 323.21,108.28 323.18,109.08 323.18,109.89 323.17,110.69 323.17,111.50 L319.97,111.50 319.97,110.69 319.97,109.89 319.96,109.08 319.94,108.28 319.89,107.47 319.81,106.67 319.69,105.86 319.52,105.06 319.32,104.25 319.10,103.45 318.85,102.64 318.57,101.84 318.27,101.03 317.94,100.23 317.59,99.42 317.21,98.62 316.82,97.81 316.40,97.01 315.98,96.20 315.53,95.40 315.08,94.59 314.60,93.79 314.12,92.98 313.64,92.18 313.17,91.37 312.69,90.57 312.22,89.76 311.74,88.96 311.28,88.15 310.85,87.35 310.45,86.54 310.10,85.74 309.80,84.93 309.55,84.13 309.34,83.32 309.16,82.52 309.01,81.71 308.89,80.91 308.80,80.10 308.75,79.30 308.73,78.49 308.74,77.69 308.77,76.88 308.82,76.08 308.87,75.27 308.93,74.47 309.00,73.66 309.06,72.86 309.12,72.05 309.19,71.25 309.26,70.44 309.34,69.64 309.42,68.83 309.51,68.03 309.61,67.22 309.73,66.42 309.85,65.61 310.00,64.81 310.16,64.00 310.34,63.20 310.53,62.39 310.73,61.59 310.94,60.78 311.17,59.98 311.41,59.17 311.66,58.37 311.93,57.56 312.22,56.76 312.52,55.95 312.83,55.15 313.15,54.34 313.47,53.54 313.80,52.73 314.12,51.93 314.45,51.12 314.78,50.32 315.11,49.51 315.45,48.71 315.78,47.90 316.11,47.10 316.43,46.29 316.74,45.49 317.05,44.68 317.34,43.88 317.62,43.07 317.89,42.27 318.13,41.46 318.33,40.66 318.49,39.85Z" fill="#bcbd22" stroke="#3d3d3d" stroke-width="1.15" stroke-linejoin="miter"/>
<line x1="321.57" y1="39.85" x2="321.57" y2="111.50" stroke="#3d3d3d" stroke-width="1.0"/>
<rect x="320.07" y="64.00" width="3" height="22.70" fill="#3d3d3d"/>
<circle cx="321.57" cy="77.40" r="0.65" fill="#e8e8e8"/>
<rect x="44.00" y="11.40" width="293.90" height="173.60" fill="none" stroke="#000" stroke-width="0.8"/>
<g stroke="#000" stroke-width="0.8"><line x1="60.33" y1="185.00" x2="60.33" y2="188.40"/><line x1="92.98" y1="185.00" x2="92.98" y2="188.40"/><line x1="125.64" y1="185.00" x2="125.64" y2="188.40"/><line x1="158.29" y1="185.00" x2="158.29" y2="188.40"/><line x1="190.95" y1="185.00" x2="190.95" y2="188.40"/><line x1="223.61" y1="185.00" x2="223.61" y2="188.40"/><line x1="256.26" y1="185.00" x2="256.26" y2="188.40"/><line x1="288.92" y1="185.00" x2="288.92" y2="188.40"/><line x1="321.57" y1="185.00" x2="321.57" y2="188.40"/><line x1="40.60" y1="177.50" x2="44.00" y2="177.50"/><line x1="40.60" y1="148.40" x2="44.00" y2="148.40"/><line x1="40.60" y1="119.30" x2="44.00" y2="119.30"/><line x1="40.60" y1="90.20" x2="44.00" y2="90.20"/><line x1="40.60" y1="61.10" x2="44.00" y2="61.10"/><line x1="40.60" y1="32.00" x2="44.00" y2="32.00"/></g>
<text x="37.20" y="181.70" font-size="10.30" text-anchor="end" textLength="21.64" lengthAdjust="spacingAndGlyphs">0.65</text>
<text x="37.20" y="152.60" font-size="10.30" text-anchor="end" textLength="21.64" lengthAdjust="spacingAndGlyphs">0.70</text>
<text x="37.20" y="123.50" font-size="10.30" text-anchor="end" textLength="21.64" lengthAdjust="spacingAndGlyphs">0.75</text>
<text x="37.20" y="94.40" font-size="10.30" text-anchor="end" textLength="21.64" lengthAdjust="spacingAndGlyphs">0.80</text>
<text x="37.20" y="65.30" font-size="10.30" text-anchor="end" textLength="21.64" lengthAdjust="spacingAndGlyphs">0.85</text>
<text x="37.20" y="36.20" font-size="10.30" text-anchor="end" textLength="21.64" lengthAdjust="spacingAndGlyphs">0.90</text>
<text transform="translate(62.93 192.20) rotate(-90)" font-size="9.75" text-anchor="end" textLength="61.63" lengthAdjust="spacingAndGlyphs">Logistic Reg.</text>
<text transform="translate(95.58 192.20) rotate(-90)" font-size="9.75" text-anchor="end" textLength="54.50" lengthAdjust="spacingAndGlyphs">Linear SVM</text>
<text transform="translate(128.24 192.20) rotate(-90)" font-size="9.75" text-anchor="end" textLength="43.31" lengthAdjust="spacingAndGlyphs">RBF SVM</text>
<text transform="translate(160.89 192.20) rotate(-90)" font-size="9.75" text-anchor="end" textLength="73.16" lengthAdjust="spacingAndGlyphs">Random Forest</text>
<text transform="translate(193.55 192.20) rotate(-90)" font-size="9.75" text-anchor="end" textLength="19.66" lengthAdjust="spacingAndGlyphs">MLP</text>
<text transform="translate(226.21 192.20) rotate(-90)" font-size="9.75" text-anchor="end" textLength="45.55" lengthAdjust="spacingAndGlyphs">Adaboost</text>
<text transform="translate(258.86 192.20) rotate(-90)" font-size="9.75" text-anchor="end" textLength="60.17" lengthAdjust="spacingAndGlyphs">Naïve Bayes</text>
<text transform="translate(291.52 192.20) rotate(-90)" font-size="9.75" text-anchor="end" textLength="21.61" lengthAdjust="spacingAndGlyphs">QDA</text>
<text transform="translate(324.17 192.20) rotate(-90)" font-size="9.75" text-anchor="end" textLength="19.38" lengthAdjust="spacingAndGlyphs">LDA</text>
<text transform="translate(9.60 98.20) rotate(-90)" font-size="9.75" text-anchor="middle" textLength="50.60" lengthAdjust="spacingAndGlyphs">Sensitivity</text>
<text x="0.00" y="11.65" font-size="14.8" font-weight="bold" textLength="17.23" lengthAdjust="spacingAndGlyphs">A)</text>
<g stroke="#b0b0b0" stroke-width="0.8"><line x1="407.41" y1="11.30" x2="407.41" y2="185.00"/><line x1="440.02" y1="11.30" x2="440.02" y2="185.00"/><line x1="472.63" y1="11.30" x2="472.63" y2="185.00"/><line x1="505.24" y1="11.30" x2="505.24" y2="185.00"/><line x1="537.85" y1="11.30" x2="537.85" y2="185.00"/><line x1="570.46" y1="11.30" x2="570.46" y2="185.00"/><line x1="603.07" y1="11.30" x2="603.07" y2="185.00"/><line x1="635.68" y1="11.30" x2="635.68" y2="185.00"/><line x1="668.29" y1="11.30" x2="668.29" y2="185.00"/><line x1="391.10" y1="181.60" x2="684.60" y2="181.60"/><line x1="391.10" y1="141.00" x2="684.60" y2="141.00"/><line x1="391.10" y1="100.40" x2="684.60" y2="100.40"/><line x1="391.10" y1="59.80" x2="684.60" y2="59.80"/><line x1="391.10" y1="19.20" x2="684.60" y2="19.20"/></g>
<path d="M408.54,41.55 408.58,42.35 408.64,43.15 408.74,43.95 408.86,44.75 409.03,45.55 409.25,46.35 409.52,47.15 409.84,47.95 410.22,48.75 410.64,49.56 411.11,50.36 411.61,51.16 412.13,51.96 412.66,52.76 413.18,53.56 413.71,54.36 414.24,55.16 414.77,55.96 415.32,56.76 415.88,57.56 416.44,58.36 416.99,59.16 417.52,59.96 418.02,60.76 418.49,61.56 418.91,62.36 419.25,63.16 419.50,63.97 419.66,64.77 419.73,65.57 419.75,66.37 419.74,67.17 419.68,67.97 419.58,68.77 419.40,69.57 419.12,70.37 418.74,71.17 418.29,71.97 417.80,72.77 417.31,73.57 416.85,74.37 416.44,75.17 416.08,75.97 415.76,76.77 415.47,77.58 415.19,78.38 414.92,79.18 414.63,79.98 414.34,80.78 414.04,81.58 413.74,82.38 413.44,83.18 413.15,83.98 412.88,84.78 412.63,85.58 412.39,86.38 412.17,87.18 411.97,87.98 411.77,88.78 411.59,89.58 411.41,90.38 411.25,91.18 411.10,91.99 410.96,92.79 410.82,93.59 410.69,94.39 410.55,95.19 410.42,95.99 410.28,96.79 410.13,97.59 409.98,98.39 409.83,99.19 409.68,99.99 409.53,100.79 409.38,101.59 409.24,102.39 409.11,103.19 408.97,103.99 408.85,104.79 408.73,105.59 408.64,106.40 408.58,107.20 408.54,108.00 408.52,108.80 408.51,109.60 408.51,110.40 408.51,111.20 408.51,112.00 408.51,112.80 408.51,113.60 L406.31,113.60 406.31,112.80 406.31,112.00 406.31,111.20 406.30,110.40 406.30,109.60 406.29,108.80 406.27,108.00 406.23,107.20 406.17,106.40 406.08,105.59 405.97,104.79 405.84,103.99 405.71,103.19 405.57,102.39 405.43,101.59 405.28,100.79 405.13,99.99 404.98,99.19 404.83,98.39 404.68,97.59 404.53,96.79 404.39,95.99 404.26,95.19 404.13,94.39 403.99,93.59 403.86,92.79 403.71,91.99 403.56,91.18 403.40,90.38 403.23,89.58 403.04,88.78 402.85,87.98 402.64,87.18 402.42,86.38 402.18,85.58 401.93,84.78 401.66,83.98 401.37,83.18 401.07,82.38 400.77,81.58 400.47,80.78 400.18,79.98 399.90,79.18 399.62,78.38 399.34,77.58 399.05,76.77 398.73,75.97 398.37,75.17 397.96,74.37 397.50,73.57 397.01,72.77 396.52,71.97 396.07,71.17 395.69,70.37 395.42,69.57 395.23,68.77 395.13,67.97 395.07,67.17 395.06,66.37 395.08,65.57 395.15,64.77 395.31,63.97 395.56,63.16 395.90,62.36 396.32,61.56 396.79,60.76 397.29,59.96 397.82,59.16 398.37,58.36 398.93,57.56 399.49,56.76 400.04,55.96 400.57,55.16 401.10,54.36 401.63,53.56 402.15,52.76 402.68,51.96 403.20,51.16 403.71,50.36 404.17,49.56 404.59,48.75 404.97,47.95 405.29,47.15 405.56,46.35 405.78,45.55 405.95,44.75 406.07,43.95 406.17,43.15 406.23,42.35 406.27,41.55Z" fill="#1f77b4" stroke="#3d3d3d" stroke-width="1.15" stroke-linejoin="miter"/>
<line x1="407.41" y1="51.30" x2="407.41" y2="90.80" stroke="#3d3d3d" stroke-width="1.0"/>
<rect x="405.91" y="61.30" width="3" height="14.20" fill="#3d3d3d"/>
<circle cx="407.41" cy="70.30" r="0.65" fill="#e8e8e8"/>
<path d="M444.41,41.55 444.57,42.36 444.80,43.16 445.08,43.97 445.41,44.77 445.77,45.58 446.16,46.38 446.59,47.19 447.04,47.99 447.51,48.80 447.98,49.60 448.44,50.41 448.89,51.21 449.33,52.02 449.76,52.82 450.17,53.63 450.56,54.43 450.93,55.24 451.25,56.04 451.54,56.85 451.80,57.65 452.02,58.46 452.22,59.26 452.40,60.07 452.54,60.87 452.65,61.68 452.73,62.48 452.76,63.29 452.78,64.09 452.77,64.90 452.74,65.70 452.72,66.51 452.69,67.31 452.65,68.12 452.63,68.92 452.60,69.73 452.58,70.53 452.56,71.34 452.54,72.14 452.51,72.95 452.49,73.75 452.46,74.56 452.43,75.36 452.39,76.17 452.34,76.97 452.28,77.78 452.20,78.58 452.10,79.39 451.95,80.19 451.76,81.00 451.51,81.80 451.20,82.61 450.84,83.41 450.44,84.22 450.01,85.02 449.56,85.83 449.08,86.63 448.58,87.44 448.07,88.24 447.55,89.05 447.03,89.85 446.52,90.66 446.01,91.46 445.51,92.27 445.04,93.07 444.60,93.88 444.20,94.68 443.84,95.49 443.53,96.29 443.26,97.10 443.02,97.90 442.78,98.71 442.56,99.51 442.34,100.32 442.13,101.12 441.93,101.93 441.75,102.73 441.61,103.54 441.50,104.34 441.41,105.15 441.35,105.95 441.30,106.76 441.27,107.56 441.25,108.37 441.23,109.17 441.22,109.98 441.22,110.78 441.22,111.59 441.22,112.39 441.22,113.20 L438.82,113.20 438.82,112.39 438.82,111.59 438.81,110.78 438.81,109.98 438.80,109.17 438.79,108.37 438.76,107.56 438.73,106.76 438.68,105.95 438.62,105.15 438.54,104.34 438.42,103.54 438.28,102.73 438.10,101.93 437.91,101.12 437.69,100.32 437.47,99.51 437.25,98.71 437.02,97.90 436.77,97.10 436.50,96.29 436.19,95.49 435.84,94.68 435.44,93.88 434.99,93.07 434.52,92.27 434.02,91.46 433.52,90.66 433.00,89.85 432.48,89.05 431.96,88.24 431.45,87.44 430.95,86.63 430.47,85.83 430.02,85.02 429.60,84.22 429.20,83.41 428.84,82.61 428.53,81.80 428.27,81.00 428.08,80.19 427.94,79.39 427.83,78.58 427.75,77.78 427.69,76.97 427.64,76.17 427.60,75.36 427.57,74.56 427.54,73.75 427.52,72.95 427.50,72.14 427.48,71.34 427.46,70.53 427.43,69.73 427.41,68.92 427.38,68.12 427.35,67.31 427.32,66.51 427.29,65.70 427.27,64.90 427.26,64.09 427.27,63.29 427.31,62.48 427.38,61.68 427.49,60.87 427.64,60.07 427.81,59.26 428.01,58.46 428.24,57.65 428.49,56.85 428.78,56.04 429.11,55.24 429.47,54.43 429.86,53.63 430.27,52.82 430.70,52.02 431.14,51.21 431.59,50.41 432.05,49.60 432.52,48.80 432.99,47.99 433.44,47.19 433.87,46.38 434.27,45.58 434.63,44.77 434.95,43.97 435.23,43.16 435.46,42.36 435.63,41.55Z" fill="#ff7f0e" stroke="#3d3d3d" stroke-width="1.15" stroke-linejoin="miter"/>
<line x1="440.02" y1="41.55" x2="440.02" y2="91.90" stroke="#3d3d3d" stroke-width="1.0"/>
<rect x="438.52" y="60.20" width="3" height="22.80" fill="#3d3d3d"/>
<circle cx="440.02" cy="67.90" r="0.65" fill="#e8e8e8"/>
<path d="M478.09,49.75 478.31,50.56 478.60,51.36 478.94,52.17 479.29,52.98 479.65,53.78 480.02,54.59 480.39,55.40 480.76,56.21 481.13,57.01 481.49,57.82 481.84,58.63 482.17,59.43 482.50,60.24 482.81,61.05 483.10,61.85 483.38,62.66 483.65,63.47 483.90,64.28 484.14,65.08 484.36,65.89 484.58,66.70 484.78,67.50 484.96,68.31 485.12,69.12 485.24,69.92 485.33,70.73 485.37,71.54 485.39,72.34 485.38,73.15 485.36,73.96 485.33,74.77 485.29,75.57 485.24,76.38 485.17,77.19 485.09,77.99 484.98,78.80 484.86,79.61 484.71,80.41 484.54,81.22 484.35,82.03 484.14,82.84 483.92,83.64 483.68,84.45 483.45,85.26 483.21,86.06 482.97,86.87 482.74,87.68 482.51,88.48 482.28,89.29 482.06,90.10 481.83,90.91 481.59,91.71 481.36,92.52 481.12,93.33 480.88,94.13 480.64,94.94 480.39,95.75 480.13,96.55 479.88,97.36 479.63,98.17 479.38,98.97 479.13,99.78 478.89,100.59 478.65,101.40 478.42,102.20 478.19,103.01 477.97,103.82 477.75,104.62 477.53,105.43 477.32,106.24 477.10,107.04 476.90,107.85 476.69,108.66 476.49,109.47 476.29,110.27 476.10,111.08 475.93,111.89 475.78,112.69 475.66,113.50 L469.59,113.50 469.48,112.69 469.33,111.89 469.15,111.08 468.96,110.27 468.76,109.47 468.56,108.66 468.36,107.85 468.15,107.04 467.94,106.24 467.73,105.43 467.51,104.62 467.29,103.82 467.06,103.01 466.84,102.20 466.60,101.40 466.37,100.59 466.12,99.78 465.88,98.97 465.63,98.17 465.37,97.36 465.12,96.55 464.87,95.75 464.62,94.94 464.38,94.13 464.13,93.33 463.90,92.52 463.66,91.71 463.43,90.91 463.20,90.10 462.97,89.29 462.74,88.48 462.51,87.68 462.28,86.87 462.05,86.06 461.81,85.26 461.57,84.45 461.34,83.64 461.11,82.84 460.90,82.03 460.71,81.22 460.54,80.41 460.40,79.61 460.27,78.80 460.17,77.99 460.08,77.19 460.02,76.38 459.97,75.57 459.93,74.77 459.89,73.96 459.87,73.15 459.87,72.34 459.88,71.54 459.93,70.73 460.01,69.92 460.14,69.12 460.29,68.31 460.48,67.50 460.68,66.70 460.89,65.89 461.12,65.08 461.35,64.28 461.60,63.47 461.87,62.66 462.15,61.85 462.45,61.05 462.76,60.24 463.08,59.43 463.42,58.63 463.77,57.82 464.13,57.01 464.50,56.21 464.87,55.40 465.23,54.59 465.60,53.78 465.96,52.98 466.32,52.17 466.65,51.36 466.94,50.56 467.16,49.75Z" fill="#2ca02c" stroke="#3d3d3d" stroke-width="1.15" stroke-linejoin="miter"/>
<line x1="472.63" y1="49.75" x2="472.63" y2="113.50" stroke="#3d3d3d" stroke-width="1.0"/>
<rect x="471.13" y="63.20" width="3" height="29.80" fill="#3d3d3d"/>
<circle cx="472.63" cy="73.60" r="0.65" fill="#e8e8e8"/>
<path d="M507.21,19.85 507.28,20.66 507.37,21.46 507.48,22.27 507.60,23.07 507.72,23.88 507.86,24.69 508.01,25.49 508.16,26.30 508.32,27.11 508.49,27.91 508.67,28.72 508.85,29.52 509.05,30.33 509.25,31.14 509.45,31.94 509.67,32.75 509.89,33.56 510.12,34.36 510.36,35.17 510.61,35.97 510.87,36.78 511.14,37.59 511.42,38.39 511.71,39.20 512.00,40.00 512.30,40.81 512.61,41.62 512.91,42.42 513.22,43.23 513.53,44.04 513.85,44.84 514.17,45.65 514.49,46.45 514.81,47.26 515.12,48.07 515.42,48.87 515.70,49.68 515.96,50.48 516.21,51.29 516.44,52.10 516.65,52.90 516.84,53.71 517.02,54.52 517.17,55.32 517.32,56.13 517.45,56.93 517.57,57.74 517.68,58.55 517.77,59.35 517.84,60.16 517.88,60.97 517.89,61.77 517.89,62.58 517.86,63.38 517.81,64.19 517.75,65.00 517.67,65.80 517.57,66.61 517.45,67.41 517.31,68.22 517.13,69.03 516.93,69.83 516.71,70.64 516.47,71.45 516.24,72.25 516.01,73.06 515.78,73.86 515.55,74.67 515.33,75.48 515.11,76.28 514.88,77.09 514.66,77.89 514.43,78.70 514.21,79.51 513.98,80.31 513.76,81.12 513.54,81.93 513.31,82.73 513.10,83.54 512.88,84.34 512.67,85.15 512.47,85.96 512.26,86.76 512.06,87.57 511.84,88.38 511.63,89.18 511.43,89.99 511.25,90.79 511.11,91.60 L499.37,91.60 499.23,90.79 499.05,89.99 498.84,89.18 498.63,88.38 498.42,87.57 498.22,86.76 498.01,85.96 497.80,85.15 497.59,84.34 497.38,83.54 497.16,82.73 496.94,81.93 496.72,81.12 496.50,80.31 496.27,79.51 496.05,78.70 495.82,77.89 495.60,77.09 495.37,76.28 495.15,75.48 494.92,74.67 494.70,73.86 494.47,73.06 494.24,72.25 494.00,71.45 493.77,70.64 493.55,69.83 493.35,69.03 493.17,68.22 493.02,67.41 492.91,66.61 492.81,65.80 492.73,65.00 492.67,64.19 492.62,63.38 492.59,62.58 492.58,61.77 492.60,60.97 492.64,60.16 492.71,59.35 492.80,58.55 492.90,57.74 493.03,56.93 493.16,56.13 493.30,55.32 493.46,54.52 493.64,53.71 493.83,52.90 494.04,52.10 494.27,51.29 494.51,50.48 494.78,49.68 495.06,48.87 495.35,48.07 495.66,47.26 495.98,46.45 496.31,45.65 496.63,44.84 496.95,44.04 497.26,43.23 497.57,42.42 497.87,41.62 498.17,40.81 498.47,40.00 498.77,39.20 499.06,38.39 499.34,37.59 499.61,36.78 499.87,35.97 500.12,35.17 500.36,34.36 500.59,33.56 500.81,32.75 501.02,31.94 501.23,31.14 501.43,30.33 501.62,29.52 501.81,28.72 501.99,27.91 502.16,27.11 502.32,26.30 502.47,25.49 502.62,24.69 502.75,23.88 502.88,23.07 503.00,22.27 503.11,21.46 503.20,20.66 503.26,19.85Z" fill="#d62728" stroke="#3d3d3d" stroke-width="1.15" stroke-linejoin="miter"/>
<line x1="505.24" y1="29.40" x2="505.24" y2="91.60" stroke="#3d3d3d" stroke-width="1.0"/>
<rect x="503.74" y="50.40" width="3" height="24.00" fill="#3d3d3d"/>
<circle cx="505.24" cy="62.80" r="0.65" fill="#e8e8e8"/>
<path d="M545.49,39.85 545.80,40.65 546.20,41.46 546.64,42.26 547.07,43.06 547.49,43.87 547.87,44.67 548.23,45.48 548.56,46.28 548.87,47.08 549.14,47.89 549.39,48.69 549.61,49.49 549.81,50.30 549.98,51.10 550.13,51.91 550.26,52.71 550.38,53.51 550.47,54.32 550.55,55.12 550.61,55.92 550.65,56.73 550.68,57.53 550.70,58.33 550.72,59.14 550.73,59.94 550.73,60.75 550.73,61.55 550.70,62.35 550.66,63.16 550.60,63.96 550.51,64.76 550.41,65.57 550.29,66.37 550.18,67.18 550.05,67.98 549.93,68.78 549.81,69.59 549.68,70.39 549.54,71.19 549.40,72.00 549.26,72.80 549.12,73.60 548.97,74.41 548.81,75.21 548.65,76.02 548.49,76.82 548.32,77.62 548.15,78.43 547.97,79.23 547.80,80.03 547.63,80.84 547.46,81.64 547.29,82.45 547.13,83.25 546.97,84.05 546.81,84.86 546.66,85.66 546.51,86.46 546.37,87.27 546.22,88.07 546.08,88.87 545.93,89.68 545.79,90.48 545.64,91.29 545.49,92.09 545.33,92.89 545.17,93.70 545.01,94.50 544.85,95.30 544.68,96.11 544.51,96.91 544.34,97.72 544.17,98.52 543.99,99.32 543.80,100.13 543.61,100.93 543.40,101.73 543.20,102.54 542.98,103.34 542.76,104.14 542.55,104.95 542.33,105.75 542.13,106.56 541.93,107.36 541.74,108.16 541.57,108.97 541.40,109.77 541.24,110.57 541.09,111.38 540.94,112.18 540.81,112.99 540.67,113.79 540.56,114.59 540.46,115.40 540.39,116.20 L535.31,116.20 535.24,115.40 535.14,114.59 535.03,113.79 534.89,112.99 534.76,112.18 534.61,111.38 534.46,110.57 534.30,109.77 534.13,108.97 533.96,108.16 533.77,107.36 533.57,106.56 533.37,105.75 533.15,104.95 532.94,104.14 532.72,103.34 532.50,102.54 532.30,101.73 532.09,100.93 531.90,100.13 531.71,99.32 531.53,98.52 531.36,97.72 531.19,96.91 531.02,96.11 530.85,95.30 530.69,94.50 530.53,93.70 530.37,92.89 530.21,92.09 530.06,91.29 529.91,90.48 529.77,89.68 529.62,88.87 529.48,88.07 529.33,87.27 529.19,86.46 529.04,85.66 528.89,84.86 528.73,84.05 528.57,83.25 528.41,82.45 528.24,81.64 528.07,80.84 527.90,80.03 527.73,79.23 527.55,78.43 527.38,77.62 527.21,76.82 527.05,76.02 526.89,75.21 526.73,74.41 526.58,73.60 526.44,72.80 526.30,72.00 526.16,71.19 526.02,70.39 525.89,69.59 525.77,68.78 525.65,67.98 525.52,67.18 525.41,66.37 525.29,65.57 525.19,64.76 525.10,63.96 525.04,63.16 525.00,62.35 524.97,61.55 524.97,60.75 524.97,59.94 524.98,59.14 525.00,58.33 525.02,57.53 525.05,56.73 525.09,55.92 525.15,55.12 525.23,54.32 525.32,53.51 525.44,52.71 525.57,51.91 525.72,51.10 525.89,50.30 526.09,49.49 526.31,48.69 526.56,47.89 526.83,47.08 527.14,46.28 527.47,45.48 527.83,44.67 528.21,43.87 528.63,43.06 529.06,42.26 529.50,41.46 529.90,40.65 530.21,39.85Z" fill="#9467bd" stroke="#3d3d3d" stroke-width="1.15" stroke-linejoin="miter"/>
<line x1="537.85" y1="39.85" x2="537.85" y2="116.20" stroke="#3d3d3d" stroke-width="1.0"/>
<rect x="536.35" y="51.40" width="3" height="32.30" fill="#3d3d3d"/>
<circle cx="537.85" cy="68.00" r="0.65" fill="#e8e8e8"/>
<path d="M572.56,31.65 572.65,32.45 572.76,33.25 572.89,34.05 573.04,34.85 573.20,35.65 573.37,36.45 573.55,37.25 573.74,38.05 573.93,38.85 574.14,39.65 574.35,40.45 574.57,41.25 574.80,42.05 575.04,42.86 575.27,43.66 575.51,44.46 575.75,45.26 575.98,46.06 576.21,46.86 576.44,47.66 576.66,48.46 576.89,49.26 577.12,50.06 577.34,50.86 577.56,51.66 577.79,52.46 578.01,53.26 578.23,54.06 578.45,54.86 578.66,55.66 578.87,56.46 579.08,57.26 579.29,58.06 579.49,58.86 579.70,59.66 579.90,60.46 580.10,61.26 580.29,62.06 580.48,62.86 580.67,63.67 580.85,64.47 581.02,65.27 581.19,66.07 581.35,66.87 581.51,67.67 581.66,68.47 581.81,69.27 581.96,70.07 582.11,70.87 582.25,71.67 582.38,72.47 582.51,73.27 582.62,74.07 582.73,74.87 582.82,75.67 582.90,76.47 582.97,77.27 583.03,78.07 583.09,78.87 583.15,79.67 583.20,80.47 583.25,81.27 583.30,82.07 583.34,82.87 583.37,83.67 583.40,84.48 583.42,85.28 583.44,86.08 583.44,86.88 583.43,87.68 583.41,88.48 583.38,89.28 583.34,90.08 583.28,90.88 583.21,91.68 583.13,92.48 583.04,93.28 582.94,94.08 582.84,94.88 582.72,95.68 582.59,96.48 582.43,97.28 582.25,98.08 582.03,98.88 581.79,99.68 581.53,100.48 581.26,101.28 580.97,102.08 580.68,102.88 580.40,103.68 580.12,104.48 579.85,105.29 579.59,106.09 579.34,106.89 579.09,107.69 578.84,108.49 578.59,109.29 578.35,110.09 578.10,110.89 577.86,111.69 577.61,112.49 577.36,113.29 577.11,114.09 576.86,114.89 576.60,115.69 576.33,116.49 576.06,117.29 575.79,118.09 575.52,118.89 575.25,119.69 575.00,120.49 574.75,121.29 574.52,122.09 574.31,122.89 574.11,123.69 573.94,124.49 573.77,125.29 573.62,126.10 573.47,126.90 573.34,127.70 573.21,128.50 573.10,129.30 572.99,130.10 572.89,130.90 572.79,131.70 572.71,132.50 572.63,133.30 572.55,134.10 572.49,134.90 572.44,135.70 572.40,136.50 L568.52,136.50 568.48,135.70 568.43,134.90 568.37,134.10 568.30,133.30 568.22,132.50 568.13,131.70 568.04,130.90 567.93,130.10 567.83,129.30 567.71,128.50 567.59,127.70 567.45,126.90 567.31,126.10 567.15,125.29 566.99,124.49 566.81,123.69 566.61,122.89 566.40,122.09 566.17,121.29 565.93,120.49 565.67,119.69 565.41,118.89 565.13,118.09 564.86,117.29 564.59,116.49 564.33,115.69 564.06,114.89 563.81,114.09 563.56,113.29 563.31,112.49 563.06,111.69 562.82,110.89 562.57,110.09 562.33,109.29 562.08,108.49 561.83,107.69 561.59,106.89 561.33,106.09 561.07,105.29 560.80,104.48 560.53,103.68 560.24,102.88 559.95,102.08 559.67,101.28 559.39,100.48 559.13,99.68 558.89,98.88 558.68,98.08 558.49,97.28 558.33,96.48 558.20,95.68 558.08,94.88 557.98,94.08 557.88,93.28 557.79,92.48 557.72,91.68 557.65,90.88 557.59,90.08 557.54,89.28 557.51,88.48 557.49,87.68 557.48,86.88 557.49,86.08 557.50,85.28 557.52,84.48 557.55,83.67 557.58,82.87 557.63,82.07 557.67,81.27 557.72,80.47 557.77,79.67 557.83,78.87 557.89,78.07 557.95,77.27 558.02,76.47 558.10,75.67 558.20,74.87 558.30,74.07 558.42,73.27 558.54,72.47 558.67,71.67 558.81,70.87 558.96,70.07 559.11,69.27 559.26,68.47 559.42,67.67 559.57,66.87 559.74,66.07 559.90,65.27 560.07,64.47 560.25,63.67 560.44,62.86 560.63,62.06 560.82,61.26 561.02,60.46 561.23,59.66 561.43,58.86 561.64,58.06 561.84,57.26 562.05,56.46 562.26,55.66 562.48,54.86 562.69,54.06 562.91,53.26 563.13,52.46 563.36,51.66 563.58,50.86 563.81,50.06 564.03,49.26 564.26,48.46 564.49,47.66 564.71,46.86 564.94,46.06 565.18,45.26 565.41,44.46 565.65,43.66 565.89,42.86 566.12,42.05 566.35,41.25 566.57,40.45 566.79,39.65 566.99,38.85 567.19,38.05 567.37,37.25 567.55,36.45 567.72,35.65 567.88,34.85 568.03,34.05 568.16,33.25 568.28,32.45 568.36,31.65Z" fill="#8c564b" stroke="#3d3d3d" stroke-width="1.15" stroke-linejoin="miter"/>
<line x1="570.46" y1="31.65" x2="570.46" y2="136.50" stroke="#3d3d3d" stroke-width="1.0"/>
<rect x="568.96" y="70.30" width="3" height="32.60" fill="#3d3d3d"/>
<circle cx="570.46" cy="83.70" r="0.65" fill="#e8e8e8"/>
<path d="M609.08,70.45 609.29,71.25 609.57,72.06 609.90,72.86 610.24,73.67 610.59,74.47 610.95,75.28 611.31,76.08 611.67,76.89 612.03,77.69 612.39,78.49 612.74,79.30 613.09,80.10 613.43,80.91 613.77,81.71 614.09,82.52 614.40,83.32 614.68,84.13 614.93,84.93 615.15,85.73 615.33,86.54 615.48,87.34 615.59,88.15 615.66,88.95 615.69,89.76 615.68,90.56 615.64,91.37 615.56,92.17 615.46,92.97 615.32,93.78 615.16,94.58 614.94,95.39 614.68,96.19 614.36,97.00 613.99,97.80 613.60,98.61 613.19,99.41 612.77,100.21 612.36,101.02 611.95,101.82 611.53,102.63 611.12,103.43 610.70,104.24 610.29,105.04 609.88,105.84 609.49,106.65 609.11,107.45 608.75,108.26 608.40,109.06 608.08,109.87 607.77,110.67 607.47,111.48 607.18,112.28 606.91,113.08 606.64,113.89 606.37,114.69 606.12,115.50 605.88,116.30 605.66,117.11 605.46,117.91 605.28,118.72 605.12,119.52 604.97,120.32 604.83,121.13 604.72,121.93 604.62,122.74 604.54,123.54 604.47,124.35 604.42,125.15 604.38,125.96 604.34,126.76 604.31,127.56 604.30,128.37 604.28,129.17 604.28,129.98 604.27,130.78 604.27,131.59 604.27,132.39 604.27,133.20 604.27,134.00 L601.87,134.00 601.87,133.20 601.87,132.39 601.87,131.59 601.87,130.78 601.87,129.98 601.86,129.17 601.85,128.37 601.83,127.56 601.80,126.76 601.77,125.96 601.73,125.15 601.67,124.35 601.61,123.54 601.53,122.74 601.43,121.93 601.31,121.13 601.18,120.32 601.03,119.52 600.86,118.72 600.68,117.91 600.48,117.11 600.26,116.30 600.02,115.50 599.77,114.69 599.51,113.89 599.24,113.08 598.96,112.28 598.67,111.48 598.38,110.67 598.07,109.87 597.74,109.06 597.40,108.26 597.04,107.45 596.66,106.65 596.26,105.84 595.85,105.04 595.44,104.24 595.03,103.43 594.61,102.63 594.20,101.82 593.78,101.02 593.37,100.21 592.96,99.41 592.55,98.61 592.15,97.80 591.79,97.00 591.47,96.19 591.20,95.39 590.99,94.58 590.82,93.78 590.69,92.97 590.58,92.17 590.51,91.37 590.46,90.56 590.45,89.76 590.48,88.95 590.56,88.15 590.67,87.34 590.82,86.54 591.00,85.73 591.21,84.93 591.46,84.13 591.74,83.32 592.05,82.52 592.38,81.71 592.72,80.91 593.06,80.10 593.41,79.30 593.76,78.49 594.11,77.69 594.47,76.89 594.83,76.08 595.19,75.28 595.55,74.47 595.90,73.67 596.25,72.86 596.57,72.06 596.85,71.25 597.07,70.45Z" fill="#e377c2" stroke="#3d3d3d" stroke-width="1.15" stroke-linejoin="miter"/>
<line x1="603.07" y1="70.45" x2="603.07" y2="123.60" stroke="#3d3d3d" stroke-width="1.0"/>
<rect x="601.57" y="80.30" width="3" height="20.30" fill="#3d3d3d"/>
<circle cx="603.07" cy="93.50" r="0.65" fill="#e8e8e8"/>
<path d="M637.01,83.55 637.03,84.36 637.06,85.16 637.11,85.97 637.17,86.78 637.24,87.58 637.32,88.39 637.41,89.20 637.52,90.00 637.65,90.81 637.78,91.61 637.93,92.42 638.09,93.23 638.26,94.03 638.43,94.84 638.62,95.65 638.83,96.45 639.05,97.26 639.29,98.07 639.56,98.87 639.86,99.68 640.20,100.49 640.58,101.29 641.01,102.10 641.48,102.91 641.97,103.71 642.47,104.52 642.96,105.32 643.44,106.13 643.91,106.94 644.35,107.74 644.79,108.55 645.20,109.36 645.60,110.16 645.97,110.97 646.31,111.78 646.62,112.58 646.90,113.39 647.16,114.20 647.40,115.00 647.61,115.81 647.81,116.62 647.99,117.42 648.15,118.23 648.29,119.03 648.39,119.84 648.45,120.65 648.45,121.45 648.39,122.26 648.27,123.07 648.11,123.87 647.91,124.68 647.69,125.49 647.44,126.29 647.18,127.10 646.90,127.91 646.60,128.71 646.27,129.52 645.92,130.32 645.56,131.13 645.21,131.94 644.86,132.74 644.52,133.55 644.19,134.36 643.87,135.16 643.56,135.97 643.25,136.78 642.95,137.58 642.66,138.39 642.37,139.20 642.10,140.00 641.83,140.81 641.57,141.62 641.31,142.42 641.07,143.23 640.83,144.03 640.60,144.84 640.38,145.65 640.16,146.45 639.96,147.26 639.76,148.07 639.57,148.87 639.39,149.68 639.21,150.49 639.05,151.29 638.89,152.10 638.74,152.91 638.60,153.71 638.46,154.52 638.34,155.33 638.22,156.13 638.10,156.94 638.00,157.74 637.89,158.55 637.80,159.36 637.70,160.16 637.61,160.97 637.53,161.78 637.44,162.58 637.36,163.39 637.29,164.20 637.21,165.00 637.15,165.81 637.09,166.62 637.03,167.42 636.99,168.23 636.94,169.04 636.90,169.84 636.87,170.65 636.83,171.45 636.80,172.26 636.77,173.07 636.75,173.87 636.73,174.68 636.71,175.49 636.70,176.29 636.69,177.10 L634.68,177.10 634.67,176.29 634.66,175.49 634.64,174.68 634.62,173.87 634.60,173.07 634.57,172.26 634.54,171.45 634.50,170.65 634.46,169.84 634.42,169.04 634.38,168.23 634.33,167.42 634.28,166.62 634.22,165.81 634.15,165.00 634.08,164.20 634.00,163.39 633.92,162.58 633.84,161.78 633.75,160.97 633.66,160.16 633.57,159.36 633.47,158.55 633.37,157.74 633.26,156.94 633.15,156.13 633.03,155.33 632.90,154.52 632.77,153.71 632.63,152.91 632.48,152.10 632.32,151.29 632.15,150.49 631.98,149.68 631.80,148.87 631.61,148.07 631.41,147.26 631.21,146.45 630.99,145.65 630.77,144.84 630.54,144.03 630.30,143.23 630.05,142.42 629.80,141.62 629.54,140.81 629.27,140.00 628.99,139.20 628.71,138.39 628.42,137.58 628.12,136.78 627.81,135.97 627.50,135.16 627.18,134.36 626.85,133.55 626.51,132.74 626.16,131.94 625.80,131.13 625.45,130.32 625.10,129.52 624.77,128.71 624.47,127.91 624.18,127.10 623.92,126.29 623.68,125.49 623.46,124.68 623.26,123.87 623.10,123.07 622.98,122.26 622.92,121.45 622.92,120.65 622.98,119.84 623.08,119.03 623.22,118.23 623.38,117.42 623.56,116.62 623.76,115.81 623.97,115.00 624.21,114.20 624.46,113.39 624.74,112.58 625.05,111.78 625.39,110.97 625.77,110.16 626.16,109.36 626.58,108.55 627.01,107.74 627.46,106.94 627.92,106.13 628.40,105.32 628.90,104.52 629.40,103.71 629.89,102.91 630.36,102.10 630.79,101.29 631.17,100.49 631.51,99.68 631.81,98.87 632.08,98.07 632.32,97.26 632.54,96.45 632.74,95.65 632.93,94.84 633.11,94.03 633.28,93.23 633.44,92.42 633.58,91.61 633.72,90.81 633.84,90.00 633.95,89.20 634.05,88.39 634.13,87.58 634.20,86.78 634.26,85.97 634.30,85.16 634.34,84.36 634.36,83.55Z" fill="#7f7f7f" stroke="#3d3d3d" stroke-width="1.15" stroke-linejoin="miter"/>
<line x1="635.68" y1="91.30" x2="635.68" y2="157.20" stroke="#3d3d3d" stroke-width="1.0"/>
<rect x="634.18" y="114.20" width="3" height="21.80" fill="#3d3d3d"/>
<circle cx="635.68" cy="125.10" r="0.65" fill="#e8e8e8"/>
<path d="M674.79,49.95 675.03,50.76 675.34,51.56 675.70,52.37 676.07,53.18 676.44,53.98 676.80,54.79 677.16,55.60 677.52,56.40 677.87,57.21 678.21,58.01 678.54,58.82 678.86,59.63 679.16,60.43 679.44,61.24 679.70,62.05 679.94,62.85 680.17,63.66 680.38,64.47 680.58,65.27 680.76,66.08 680.91,66.89 681.02,67.69 681.08,68.50 681.10,69.31 681.06,70.11 680.98,70.92 680.85,71.72 680.69,72.53 680.50,73.34 680.28,74.14 680.04,74.95 679.77,75.76 679.46,76.56 679.11,77.37 678.72,78.18 678.29,78.98 677.83,79.79 677.37,80.60 676.91,81.40 676.45,82.21 676.01,83.02 675.58,83.82 675.16,84.63 674.75,85.44 674.34,86.24 673.96,87.05 673.59,87.85 673.24,88.66 672.91,89.47 672.61,90.27 672.34,91.08 672.10,91.89 671.90,92.69 671.76,93.50 L664.83,93.50 664.68,92.69 664.49,91.89 664.25,91.08 663.97,90.27 663.68,89.47 663.35,88.66 663.00,87.85 662.63,87.05 662.24,86.24 661.84,85.44 661.43,84.63 661.01,83.82 660.58,83.02 660.14,82.21 659.68,81.40 659.22,80.60 658.75,79.79 658.30,78.98 657.87,78.18 657.48,77.37 657.12,76.56 656.82,75.76 656.55,74.95 656.31,74.14 656.09,73.34 655.90,72.53 655.74,71.72 655.61,70.92 655.53,70.11 655.49,69.31 655.51,68.50 655.57,67.69 655.68,66.89 655.83,66.08 656.01,65.27 656.20,64.47 656.42,63.66 656.64,62.85 656.89,62.05 657.15,61.24 657.43,60.43 657.73,59.63 658.05,58.82 658.38,58.01 658.72,57.21 659.07,56.40 659.43,55.60 659.79,54.79 660.15,53.98 660.52,53.18 660.89,52.37 661.25,51.56 661.56,50.76 661.80,49.95Z" fill="#bcbd22" stroke="#3d3d3d" stroke-width="1.15" stroke-linejoin="miter"/>
<line x1="668.29" y1="49.95" x2="668.29" y2="87.60" stroke="#3d3d3d" stroke-width="1.0"/>
<rect x="666.79" y="60.00" width="3" height="15.40" fill="#3d3d3d"/>
<circle cx="668.29" cy="70.80" r="0.65" fill="#e8e8e8"/>
<rect x="391.10" y="11.30" width="293.50" height="173.70" fill="none" stroke="#000" stroke-width="0.8"/>
<g stroke="#000" stroke-width="0.8"><line x1="407.41" y1="185.00" x2="407.41" y2="188.40"/><line x1="440.02" y1="185.00" x2="440.02" y2="188.40"/><line x1="472.63" y1="185.00" x2="472.63" y2="188.40"/><line x1="505.24" y1="185.00" x2="505.24" y2="188.40"/><line x1="537.85" y1="185.00" x2="537.85" y2="188.40"/><line x1="570.46" y1="185.00" x2="570.46" y2="188.40"/><line x1="603.07" y1="185.00" x2="603.07" y2="188.40"/><line x1="635.68" y1="185.00" x2="635.68" y2="188.40"/><line x1="668.29" y1="185.00" x2="668.29" y2="188.40"/><line x1="387.70" y1="181.60" x2="391.10" y2="181.60"/><line x1="387.70" y1="141.00" x2="391.10" y2="141.00"/><line x1="387.70" y1="100.40" x2="391.10" y2="100.40"/><line x1="387.70" y1="59.80" x2="391.10" y2="59.80"/><line x1="387.70" y1="19.20" x2="391.10" y2="19.20"/></g>
<text x="384.30" y="185.80" font-size="10.30" text-anchor="end" textLength="15.46" lengthAdjust="spacingAndGlyphs">0.5</text>
<text x="384.30" y="145.20" font-size="10.30" text-anchor="end" textLength="15.46" lengthAdjust="spacingAndGlyphs">0.6</text>
<text x="384.30" y="104.60" font-size="10.30" text-anchor="end" textLength="15.46" lengthAdjust="spacingAndGlyphs">0.7</text>
<text x="384.30" y="64.00" font-size="10.30" text-anchor="end" textLength="15.46" lengthAdjust="spacingAndGlyphs">0.8</text>
<text x="384.30" y="23.40" font-size="10.30" text-anchor="end" textLength="15.46" lengthAdjust="spacingAndGlyphs">0.9</text>
<text transform="translate(410.01 192.20) rotate(-90)" font-size="9.75" text-anchor="end" textLength="61.63" lengthAdjust="spacingAndGlyphs">Logistic Reg.</text>
<text transform="translate(442.62 192.20) rotate(-90)" font-size="9.75" text-anchor="end" textLength="54.50" lengthAdjust="spacingAndGlyphs">Linear SVM</text>
<text transform="translate(475.23 192.20) rotate(-90)" font-size="9.75" text-anchor="end" textLength="43.31" lengthAdjust="spacingAndGlyphs">RBF SVM</text>
<text transform="translate(507.84 192.20) rotate(-90)" font-size="9.75" text-anchor="end" textLength="73.16" lengthAdjust="spacingAndGlyphs">Random Forest</text>
<text transform="translate(540.45 192.20) rotate(-90)" font-size="9.75" text-anchor="end" textLength="19.66" lengthAdjust="spacingAndGlyphs">MLP</text>
<text transform="translate(573.06 192.20) rotate(-90)" font-size="9.75" text-anchor="end" textLength="45.55" lengthAdjust="spacingAndGlyphs">Adaboost</text>
<text transform="translate(605.67 192.20) rotate(-90)" font-size="9.75" text-anchor="end" textLength="60.17" lengthAdjust="spacingAndGlyphs">Naïve Bayes</text>
<text transform="translate(638.28 192.20) rotate(-90)" font-size="9.75" text-anchor="end" textLength="21.61" lengthAdjust="spacingAndGlyphs">QDA</text>
<text transform="translate(670.89 192.20) rotate(-90)" font-size="9.75" text-anchor="end" textLength="19.38" lengthAdjust="spacingAndGlyphs">LDA</text>
<text transform="translate(362.60 98.15) rotate(-90)" font-size="9.75" text-anchor="middle" textLength="50.10" lengthAdjust="spacingAndGlyphs">Specificity</text>
<text x="347.40" y="11.55" font-size="14.8" font-weight="bold" textLength="17.07" lengthAdjust="spacingAndGlyphs">B)</text>
<g stroke="#b0b0b0" stroke-width="0.8"><line x1="60.33" y1="287.60" x2="60.33" y2="461.20"/><line x1="92.98" y1="287.60" x2="92.98" y2="461.20"/><line x1="125.64" y1="287.60" x2="125.64" y2="461.20"/><line x1="158.29" y1="287.60" x2="158.29" y2="461.20"/><line x1="190.95" y1="287.60" x2="190.95" y2="461.20"/><line x1="223.61" y1="287.60" x2="223.61" y2="461.20"/><line x1="256.26" y1="287.60" x2="256.26" y2="461.20"/><line x1="288.92" y1="287.60" x2="288.92" y2="461.20"/><line x1="321.57" y1="287.60" x2="321.57" y2="461.20"/><line x1="44.00" y1="450.38" x2="337.90" y2="450.38"/><line x1="44.00" y1="416.11" x2="337.90" y2="416.11"/><line x1="44.00" y1="381.84" x2="337.90" y2="381.84"/><line x1="44.00" y1="347.57" x2="337.90" y2="347.57"/><line x1="44.00" y1="313.30" x2="337.90" y2="313.30"/></g>
<path d="M64.01,301.55 64.16,302.36 64.35,303.16 64.57,303.97 64.80,304.78 65.04,305.58 65.26,306.39 65.49,307.19 65.70,308.00 65.92,308.81 66.13,309.61 66.33,310.42 66.55,311.23 66.76,312.03 66.97,312.84 67.19,313.65 67.42,314.45 67.64,315.26 67.87,316.07 68.09,316.87 68.31,317.68 68.53,318.48 68.75,319.29 68.96,320.10 69.17,320.90 69.37,321.71 69.57,322.52 69.77,323.32 69.95,324.13 70.13,324.94 70.30,325.74 70.46,326.55 70.62,327.35 70.77,328.16 70.93,328.97 71.09,329.77 71.27,330.58 71.45,331.39 71.62,332.19 71.79,333.00 71.94,333.81 72.08,334.61 72.20,335.42 72.31,336.23 72.42,337.03 72.50,337.84 72.58,338.64 72.64,339.45 72.68,340.26 72.70,341.06 72.71,341.87 72.71,342.68 72.70,343.48 72.69,344.29 72.68,345.10 72.66,345.90 72.65,346.71 72.65,347.51 72.65,348.32 72.66,349.13 72.69,349.93 72.74,350.74 72.79,351.55 72.86,352.35 72.92,353.16 72.97,353.97 73.01,354.77 73.04,355.58 73.07,356.38 73.08,357.19 73.10,358.00 73.10,358.80 73.10,359.61 73.08,360.42 73.02,361.22 72.94,362.03 72.82,362.84 72.67,363.64 72.49,364.45 72.30,365.26 72.08,366.06 71.84,366.87 71.57,367.67 71.28,368.48 70.98,369.29 70.71,370.09 70.50,370.90 L50.16,370.90 49.94,370.09 49.67,369.29 49.38,368.48 49.09,367.67 48.82,366.87 48.58,366.06 48.36,365.26 48.16,364.45 47.99,363.64 47.84,362.84 47.72,362.03 47.63,361.22 47.58,360.42 47.56,359.61 47.55,358.80 47.56,358.00 47.57,357.19 47.59,356.38 47.61,355.58 47.65,354.77 47.69,353.97 47.74,353.16 47.80,352.35 47.86,351.55 47.92,350.74 47.96,349.93 47.99,349.13 48.01,348.32 48.01,347.51 48.00,346.71 47.99,345.90 47.98,345.10 47.97,344.29 47.95,343.48 47.95,342.68 47.95,341.87 47.96,341.06 47.98,340.26 48.02,339.45 48.08,338.64 48.15,337.84 48.24,337.03 48.34,336.23 48.45,335.42 48.58,334.61 48.71,333.81 48.86,333.00 49.03,332.19 49.21,331.39 49.39,330.58 49.56,329.77 49.73,328.97 49.88,328.16 50.04,327.35 50.19,326.55 50.35,325.74 50.52,324.94 50.70,324.13 50.89,323.32 51.08,322.52 51.28,321.71 51.49,320.90 51.70,320.10 51.91,319.29 52.12,318.48 52.34,317.68 52.56,316.87 52.79,316.07 53.01,315.26 53.24,314.45 53.46,313.65 53.68,312.84 53.90,312.03 54.11,311.23 54.32,310.42 54.53,309.61 54.74,308.81 54.95,308.00 55.17,307.19 55.39,306.39 55.62,305.58 55.85,304.78 56.08,303.97 56.30,303.16 56.50,302.36 56.65,301.55Z" fill="#1f77b4" stroke="#3d3d3d" stroke-width="1.15" stroke-linejoin="miter"/>
<line x1="60.33" y1="301.55" x2="60.33" y2="370.90" stroke="#3d3d3d" stroke-width="1.0"/>
<rect x="58.83" y="330.60" width="3" height="33.20" fill="#3d3d3d"/>
<circle cx="60.33" cy="340.40" r="0.65" fill="#e8e8e8"/>
<path d="M100.00,316.65 100.18,317.46 100.41,318.26 100.69,319.07 100.97,319.87 101.27,320.68 101.57,321.48 101.87,322.29 102.18,323.09 102.48,323.90 102.78,324.70 103.06,325.51 103.34,326.31 103.59,327.12 103.83,327.92 104.06,328.73 104.27,329.53 104.47,330.34 104.65,331.15 104.82,331.95 104.97,332.76 105.10,333.56 105.23,334.37 105.34,335.17 105.44,335.98 105.53,336.78 105.61,337.59 105.67,338.39 105.73,339.20 105.78,340.00 105.83,340.81 105.86,341.61 105.89,342.42 105.91,343.22 105.91,344.03 105.91,344.84 105.89,345.64 105.86,346.45 105.83,347.25 105.79,348.06 105.74,348.86 105.69,349.67 105.62,350.47 105.54,351.28 105.44,352.08 105.34,352.89 105.23,353.69 105.11,354.50 104.99,355.30 104.86,356.11 104.73,356.91 104.60,357.72 104.46,358.53 104.32,359.33 104.17,360.14 104.02,360.94 103.87,361.75 103.72,362.55 103.57,363.36 103.41,364.16 103.26,364.97 103.11,365.77 102.95,366.58 102.79,367.38 102.63,368.19 102.46,368.99 102.29,369.80 102.11,370.60 101.92,371.41 101.73,372.22 101.54,373.02 101.34,373.83 101.13,374.63 100.92,375.44 100.71,376.24 100.49,377.05 100.26,377.85 100.03,378.66 99.80,379.46 99.57,380.27 99.35,381.07 99.14,381.88 98.94,382.68 98.77,383.49 98.62,384.29 98.51,385.10 L87.46,385.10 87.35,384.29 87.20,383.49 87.02,382.68 86.83,381.88 86.62,381.07 86.39,380.27 86.17,379.46 85.93,378.66 85.71,377.85 85.48,377.05 85.26,376.24 85.05,375.44 84.84,374.63 84.63,373.83 84.43,373.02 84.23,372.22 84.04,371.41 83.86,370.60 83.68,369.80 83.51,368.99 83.34,368.19 83.17,367.38 83.01,366.58 82.86,365.77 82.70,364.97 82.55,364.16 82.40,363.36 82.25,362.55 82.10,361.75 81.95,360.94 81.80,360.14 81.65,359.33 81.51,358.53 81.37,357.72 81.23,356.91 81.11,356.11 80.98,355.30 80.86,354.50 80.74,353.69 80.63,352.89 80.52,352.08 80.43,351.28 80.35,350.47 80.28,349.67 80.22,348.86 80.17,348.06 80.13,347.25 80.10,346.45 80.08,345.64 80.06,344.84 80.05,344.03 80.06,343.22 80.08,342.42 80.10,341.61 80.14,340.81 80.18,340.00 80.23,339.20 80.29,338.39 80.36,337.59 80.44,336.78 80.53,335.98 80.63,335.17 80.74,334.37 80.86,333.56 81.00,332.76 81.15,331.95 81.32,331.15 81.50,330.34 81.70,329.53 81.91,328.73 82.14,327.92 82.38,327.12 82.63,326.31 82.90,325.51 83.19,324.70 83.48,323.90 83.79,323.09 84.09,322.29 84.40,321.48 84.70,320.68 84.99,319.87 85.28,319.07 85.55,318.26 85.79,317.46 85.97,316.65Z" fill="#ff7f0e" stroke="#3d3d3d" stroke-width="1.15" stroke-linejoin="miter"/>
<line x1="92.98" y1="316.65" x2="92.98" y2="385.10" stroke="#3d3d3d" stroke-width="1.0"/>
<rect x="91.48" y="332.70" width="3" height="36.70" fill="#3d3d3d"/>
<circle cx="92.98" cy="347.40" r="0.65" fill="#e8e8e8"/>
<path d="M126.79,295.65 126.80,296.45 126.80,297.26 126.81,298.06 126.83,298.86 126.84,299.67 126.87,300.47 126.90,301.28 126.95,302.08 127.01,302.88 127.10,303.69 127.21,304.49 127.33,305.29 127.48,306.10 127.63,306.90 127.80,307.71 127.98,308.51 128.17,309.31 128.38,310.12 128.60,310.92 128.84,311.72 129.11,312.53 129.39,313.33 129.68,314.13 129.97,314.94 130.27,315.74 130.57,316.55 130.87,317.35 131.18,318.15 131.48,318.96 131.80,319.76 132.11,320.56 132.43,321.37 132.75,322.17 133.07,322.98 133.38,323.78 133.70,324.58 134.01,325.39 134.33,326.19 134.65,326.99 134.97,327.80 135.29,328.60 135.59,329.40 135.87,330.21 136.13,331.01 136.37,331.82 136.58,332.62 136.77,333.42 136.95,334.23 137.11,335.03 137.26,335.83 137.40,336.64 137.54,337.44 137.67,338.25 137.80,339.05 137.92,339.85 138.04,340.66 138.15,341.46 138.25,342.26 138.33,343.07 138.38,343.87 138.40,344.67 138.40,345.48 138.38,346.28 138.36,347.09 138.32,347.89 138.28,348.69 138.24,349.50 138.19,350.30 138.14,351.10 138.09,351.91 138.03,352.71 137.96,353.52 137.89,354.32 137.81,355.12 137.72,355.93 137.63,356.73 137.53,357.53 137.42,358.34 137.32,359.14 137.21,359.95 137.10,360.75 136.99,361.55 136.87,362.36 136.76,363.16 136.64,363.96 136.52,364.77 136.39,365.57 136.26,366.37 136.13,367.18 135.99,367.98 135.84,368.79 135.69,369.59 135.53,370.39 135.37,371.20 135.20,372.00 135.01,372.80 134.82,373.61 134.61,374.41 134.39,375.22 134.17,376.02 133.93,376.82 133.70,377.63 133.46,378.43 133.22,379.23 132.98,380.04 132.75,380.84 132.52,381.64 132.29,382.45 132.06,383.25 131.84,384.06 131.61,384.86 131.39,385.66 131.17,386.47 130.96,387.27 130.76,388.07 130.56,388.88 130.37,389.68 130.18,390.49 130.01,391.29 129.85,392.09 129.71,392.90 129.61,393.70 L121.67,393.70 121.57,392.90 121.43,392.09 121.27,391.29 121.10,390.49 120.91,389.68 120.72,388.88 120.52,388.07 120.32,387.27 120.10,386.47 119.89,385.66 119.66,384.86 119.44,384.06 119.22,383.25 118.99,382.45 118.76,381.64 118.53,380.84 118.30,380.04 118.06,379.23 117.82,378.43 117.58,377.63 117.34,376.82 117.11,376.02 116.88,375.22 116.67,374.41 116.46,373.61 116.26,372.80 116.08,372.00 115.91,371.20 115.74,370.39 115.59,369.59 115.44,368.79 115.29,367.98 115.15,367.18 115.02,366.37 114.89,365.57 114.76,364.77 114.64,363.96 114.52,363.16 114.41,362.36 114.29,361.55 114.18,360.75 114.07,359.95 113.96,359.14 113.85,358.34 113.75,357.53 113.65,356.73 113.56,355.93 113.47,355.12 113.39,354.32 113.32,353.52 113.25,352.71 113.19,351.91 113.14,351.10 113.09,350.30 113.04,349.50 112.99,348.69 112.96,347.89 112.92,347.09 112.89,346.28 112.88,345.48 112.88,344.67 112.90,343.87 112.95,343.07 113.02,342.26 113.12,341.46 113.24,340.66 113.36,339.85 113.48,339.05 113.61,338.25 113.74,337.44 113.87,336.64 114.02,335.83 114.17,335.03 114.33,334.23 114.51,333.42 114.70,332.62 114.91,331.82 115.15,331.01 115.41,330.21 115.69,329.40 115.99,328.60 116.30,327.80 116.62,326.99 116.94,326.19 117.26,325.39 117.58,324.58 117.90,323.78 118.21,322.98 118.53,322.17 118.85,321.37 119.17,320.56 119.48,319.76 119.79,318.96 120.10,318.15 120.41,317.35 120.71,316.55 121.01,315.74 121.31,314.94 121.60,314.13 121.89,313.33 122.17,312.53 122.43,311.72 122.68,310.92 122.90,310.12 123.11,309.31 123.30,308.51 123.48,307.71 123.64,306.90 123.80,306.10 123.95,305.29 124.07,304.49 124.18,303.69 124.27,302.88 124.33,302.08 124.38,301.28 124.41,300.47 124.43,299.67 124.45,298.86 124.46,298.06 124.47,297.26 124.48,296.45 124.49,295.65Z" fill="#2ca02c" stroke="#3d3d3d" stroke-width="1.15" stroke-linejoin="miter"/>
<line x1="125.64" y1="295.65" x2="125.64" y2="393.70" stroke="#3d3d3d" stroke-width="1.0"/>
<rect x="124.14" y="337.10" width="3" height="34.30" fill="#3d3d3d"/>
<circle cx="125.64" cy="348.50" r="0.65" fill="#e8e8e8"/>
<path d="M162.54,302.85 162.67,303.66 162.84,304.46 163.03,305.27 163.23,306.08 163.44,306.88 163.65,307.69 163.86,308.50 164.08,309.30 164.29,310.11 164.51,310.92 164.73,311.72 164.95,312.53 165.17,313.34 165.39,314.14 165.61,314.95 165.83,315.76 166.04,316.56 166.25,317.37 166.46,318.18 166.66,318.98 166.87,319.79 167.07,320.60 167.27,321.40 167.46,322.21 167.65,323.02 167.84,323.82 168.02,324.63 168.19,325.44 168.36,326.24 168.51,327.05 168.66,327.86 168.79,328.66 168.92,329.47 169.05,330.28 169.17,331.08 169.28,331.89 169.39,332.70 169.49,333.50 169.59,334.31 169.69,335.12 169.78,335.92 169.86,336.73 169.94,337.54 170.01,338.34 170.08,339.15 170.14,339.96 170.20,340.76 170.26,341.57 170.32,342.38 170.38,343.18 170.44,343.99 170.49,344.80 170.56,345.60 170.62,346.41 170.69,347.22 170.77,348.02 170.84,348.83 170.92,349.63 171.00,350.44 171.07,351.25 171.13,352.05 171.19,352.86 171.23,353.67 171.26,354.47 171.27,355.28 171.27,356.09 171.25,356.89 171.23,357.70 171.20,358.51 171.16,359.31 171.11,360.12 171.06,360.93 171.00,361.73 170.94,362.54 170.88,363.35 170.81,364.15 170.74,364.96 170.66,365.77 170.57,366.57 170.47,367.38 170.35,368.19 170.24,368.99 170.11,369.80 169.98,370.61 169.84,371.41 169.70,372.22 169.56,373.03 169.41,373.83 169.26,374.64 169.10,375.45 168.93,376.25 168.75,377.06 168.57,377.87 168.39,378.67 168.20,379.48 168.02,380.29 167.83,381.09 167.65,381.90 167.46,382.71 167.28,383.51 167.11,384.32 166.93,385.13 166.75,385.93 166.58,386.74 166.40,387.55 166.22,388.35 166.05,389.16 165.87,389.97 165.70,390.77 165.53,391.58 165.37,392.39 165.23,393.19 165.12,394.00 L151.47,394.00 151.36,393.19 151.22,392.39 151.06,391.58 150.89,390.77 150.72,389.97 150.54,389.16 150.37,388.35 150.19,387.55 150.01,386.74 149.84,385.93 149.66,385.13 149.48,384.32 149.30,383.51 149.12,382.71 148.94,381.90 148.76,381.09 148.57,380.29 148.38,379.48 148.20,378.67 148.01,377.87 147.83,377.06 147.66,376.25 147.49,375.45 147.33,374.64 147.18,373.83 147.03,373.03 146.89,372.22 146.75,371.41 146.61,370.61 146.48,369.80 146.35,368.99 146.23,368.19 146.12,367.38 146.02,366.57 145.93,365.77 145.85,364.96 145.78,364.15 145.71,363.35 145.65,362.54 145.59,361.73 145.53,360.93 145.48,360.12 145.43,359.31 145.39,358.51 145.36,357.70 145.34,356.89 145.32,356.09 145.32,355.28 145.33,354.47 145.36,353.67 145.40,352.86 145.45,352.05 145.52,351.25 145.59,350.44 145.67,349.63 145.75,348.83 145.82,348.02 145.90,347.22 145.97,346.41 146.03,345.60 146.09,344.80 146.15,343.99 146.21,343.18 146.27,342.38 146.33,341.57 146.39,340.76 146.45,339.96 146.51,339.15 146.58,338.34 146.65,337.54 146.73,336.73 146.81,335.92 146.90,335.12 147.00,334.31 147.09,333.50 147.20,332.70 147.31,331.89 147.42,331.08 147.54,330.28 147.66,329.47 147.80,328.66 147.93,327.86 148.08,327.05 148.23,326.24 148.39,325.44 148.57,324.63 148.75,323.82 148.93,323.02 149.13,322.21 149.32,321.40 149.52,320.60 149.72,319.79 149.93,318.98 150.13,318.18 150.34,317.37 150.55,316.56 150.76,315.76 150.98,314.95 151.20,314.14 151.42,313.34 151.64,312.53 151.86,311.72 152.08,310.92 152.30,310.11 152.51,309.30 152.73,308.50 152.94,307.69 153.15,306.88 153.36,306.08 153.56,305.27 153.75,304.46 153.92,303.66 154.04,302.85Z" fill="#d62728" stroke="#3d3d3d" stroke-width="1.15" stroke-linejoin="miter"/>
<line x1="158.29" y1="302.85" x2="158.29" y2="394.00" stroke="#3d3d3d" stroke-width="1.0"/>
<rect x="156.79" y="331.00" width="3" height="40.10" fill="#3d3d3d"/>
<circle cx="158.29" cy="354.80" r="0.65" fill="#e8e8e8"/>
<path d="M193.50,301.75 193.62,302.55 193.78,303.35 193.98,304.15 194.18,304.95 194.40,305.75 194.63,306.55 194.86,307.35 195.09,308.15 195.34,308.95 195.59,309.75 195.84,310.55 196.10,311.36 196.37,312.16 196.63,312.96 196.90,313.76 197.16,314.56 197.43,315.36 197.69,316.16 197.96,316.96 198.23,317.76 198.50,318.56 198.77,319.36 199.05,320.16 199.32,320.96 199.59,321.76 199.84,322.56 200.09,323.36 200.32,324.16 200.54,324.96 200.74,325.76 200.93,326.56 201.11,327.36 201.28,328.16 201.44,328.96 201.60,329.77 201.75,330.57 201.89,331.37 202.02,332.17 202.15,332.97 202.27,333.77 202.38,334.57 202.49,335.37 202.59,336.17 202.68,336.97 202.77,337.77 202.86,338.57 202.94,339.37 203.02,340.17 203.10,340.97 203.16,341.77 203.23,342.57 203.29,343.37 203.34,344.17 203.40,344.97 203.45,345.77 203.50,346.57 203.55,347.37 203.60,348.18 203.64,348.98 203.68,349.78 203.72,350.58 203.76,351.38 203.78,352.18 203.81,352.98 203.82,353.78 203.83,354.58 203.83,355.38 203.81,356.18 203.79,356.98 203.75,357.78 203.70,358.58 203.65,359.38 203.58,360.18 203.51,360.98 203.43,361.78 203.35,362.58 203.26,363.38 203.18,364.18 203.09,364.98 202.99,365.78 202.89,366.59 202.78,367.39 202.66,368.19 202.53,368.99 202.40,369.79 202.25,370.59 202.10,371.39 201.95,372.19 201.78,372.99 201.61,373.79 201.42,374.59 201.22,375.39 201.00,376.19 200.77,376.99 200.52,377.79 200.27,378.59 200.02,379.39 199.76,380.19 199.50,380.99 199.24,381.79 198.98,382.59 198.73,383.39 198.48,384.19 198.23,385.00 197.97,385.80 197.72,386.60 197.47,387.40 197.22,388.20 196.98,389.00 196.73,389.80 196.50,390.60 196.26,391.40 196.05,392.20 195.86,393.00 195.72,393.80 L186.18,393.80 186.04,393.00 185.85,392.20 185.64,391.40 185.40,390.60 185.17,389.80 184.92,389.00 184.68,388.20 184.43,387.40 184.18,386.60 183.93,385.80 183.67,385.00 183.42,384.19 183.17,383.39 182.92,382.59 182.66,381.79 182.40,380.99 182.14,380.19 181.88,379.39 181.63,378.59 181.38,377.79 181.13,376.99 180.90,376.19 180.68,375.39 180.48,374.59 180.29,373.79 180.12,372.99 179.95,372.19 179.80,371.39 179.65,370.59 179.50,369.79 179.37,368.99 179.24,368.19 179.12,367.39 179.01,366.59 178.91,365.78 178.81,364.98 178.72,364.18 178.64,363.38 178.55,362.58 178.47,361.78 178.39,360.98 178.32,360.18 178.25,359.38 178.20,358.58 178.15,357.78 178.11,356.98 178.09,356.18 178.07,355.38 178.07,354.58 178.08,353.78 178.09,352.98 178.12,352.18 178.14,351.38 178.18,350.58 178.22,349.78 178.26,348.98 178.30,348.18 178.35,347.37 178.40,346.57 178.45,345.77 178.50,344.97 178.56,344.17 178.61,343.37 178.67,342.57 178.74,341.77 178.80,340.97 178.88,340.17 178.96,339.37 179.04,338.57 179.13,337.77 179.22,336.97 179.31,336.17 179.41,335.37 179.52,334.57 179.63,333.77 179.75,332.97 179.88,332.17 180.01,331.37 180.15,330.57 180.30,329.77 180.46,328.96 180.62,328.16 180.79,327.36 180.97,326.56 181.16,325.76 181.36,324.96 181.58,324.16 181.81,323.36 182.06,322.56 182.31,321.76 182.58,320.96 182.85,320.16 183.13,319.36 183.40,318.56 183.67,317.76 183.94,316.96 184.21,316.16 184.47,315.36 184.74,314.56 185.00,313.76 185.27,312.96 185.53,312.16 185.80,311.36 186.06,310.55 186.31,309.75 186.56,308.95 186.81,308.15 187.04,307.35 187.27,306.55 187.50,305.75 187.72,304.95 187.92,304.15 188.12,303.35 188.28,302.55 188.40,301.75Z" fill="#9467bd" stroke="#3d3d3d" stroke-width="1.15" stroke-linejoin="miter"/>
<line x1="190.95" y1="301.75" x2="190.95" y2="393.80" stroke="#3d3d3d" stroke-width="1.0"/>
<rect x="189.45" y="332.90" width="3" height="39.90" fill="#3d3d3d"/>
<circle cx="190.95" cy="354.80" r="0.65" fill="#e8e8e8"/>
<path d="M230.57,317.55 230.79,318.36 231.07,319.16 231.38,319.97 231.69,320.77 231.99,321.58 232.27,322.39 232.54,323.19 232.79,324.00 233.03,324.80 233.25,325.61 233.47,326.41 233.67,327.22 233.86,328.03 234.05,328.83 234.22,329.64 234.39,330.44 234.54,331.25 234.69,332.06 234.84,332.86 234.98,333.67 235.10,334.47 235.23,335.28 235.34,336.08 235.44,336.89 235.54,337.70 235.64,338.50 235.73,339.31 235.81,340.11 235.89,340.92 235.97,341.73 236.03,342.53 236.09,343.34 236.14,344.14 236.19,344.95 236.23,345.75 236.26,346.56 236.29,347.37 236.32,348.17 236.34,348.98 236.36,349.78 236.38,350.59 236.39,351.40 236.39,352.20 236.40,353.01 236.40,353.81 236.39,354.62 236.38,355.42 236.37,356.23 236.35,357.04 236.33,357.84 236.31,358.65 236.28,359.45 236.26,360.26 236.22,361.07 236.19,361.87 236.14,362.68 236.08,363.48 236.01,364.29 235.93,365.10 235.83,365.90 235.73,366.71 235.63,367.51 235.52,368.32 235.40,369.12 235.29,369.93 235.17,370.74 235.04,371.54 234.90,372.35 234.76,373.15 234.61,373.96 234.45,374.77 234.28,375.57 234.10,376.38 233.90,377.18 233.69,377.99 233.45,378.79 233.20,379.60 232.93,380.41 232.64,381.21 232.35,382.02 232.05,382.82 231.75,383.63 231.45,384.44 231.16,385.24 230.88,386.05 230.59,386.85 230.31,387.66 230.02,388.46 229.74,389.27 229.45,390.08 229.18,390.88 228.92,391.69 228.69,392.49 228.51,393.30 L218.70,393.30 218.52,392.49 218.30,391.69 218.03,390.88 217.76,390.08 217.47,389.27 217.19,388.46 216.90,387.66 216.62,386.85 216.33,386.05 216.05,385.24 215.76,384.44 215.46,383.63 215.16,382.82 214.86,382.02 214.57,381.21 214.29,380.41 214.01,379.60 213.76,378.79 213.52,377.99 213.31,377.18 213.11,376.38 212.93,375.57 212.76,374.77 212.60,373.96 212.45,373.15 212.31,372.35 212.17,371.54 212.05,370.74 211.92,369.93 211.81,369.12 211.69,368.32 211.58,367.51 211.48,366.71 211.38,365.90 211.29,365.10 211.20,364.29 211.13,363.48 211.07,362.68 211.03,361.87 210.99,361.07 210.96,360.26 210.93,359.45 210.90,358.65 210.88,357.84 210.86,357.04 210.85,356.23 210.83,355.42 210.82,354.62 210.82,353.81 210.81,353.01 210.82,352.20 210.82,351.40 210.84,350.59 210.85,349.78 210.87,348.98 210.90,348.17 210.92,347.37 210.95,346.56 210.99,345.75 211.02,344.95 211.07,344.14 211.12,343.34 211.18,342.53 211.24,341.73 211.32,340.92 211.40,340.11 211.48,339.31 211.57,338.50 211.67,337.70 211.77,336.89 211.87,336.08 211.99,335.28 212.11,334.47 212.24,333.67 212.37,332.86 212.52,332.06 212.67,331.25 212.83,330.44 212.99,329.64 213.16,328.83 213.35,328.03 213.54,327.22 213.74,326.41 213.96,325.61 214.19,324.80 214.42,324.00 214.67,323.19 214.94,322.39 215.22,321.58 215.52,320.77 215.83,319.97 216.14,319.16 216.42,318.36 216.64,317.55Z" fill="#8c564b" stroke="#3d3d3d" stroke-width="1.15" stroke-linejoin="miter"/>
<line x1="223.61" y1="317.55" x2="223.61" y2="393.30" stroke="#3d3d3d" stroke-width="1.0"/>
<rect x="222.11" y="334.00" width="3" height="42.50" fill="#3d3d3d"/>
<circle cx="223.61" cy="355.20" r="0.65" fill="#e8e8e8"/>
<path d="M257.40,331.55 257.43,332.36 257.48,333.16 257.55,333.97 257.63,334.77 257.73,335.58 257.85,336.38 257.98,337.19 258.13,338.00 258.31,338.80 258.51,339.61 258.75,340.41 259.02,341.22 259.34,342.02 259.71,342.83 260.12,343.64 260.57,344.44 261.05,345.25 261.53,346.05 262.02,346.86 262.51,347.66 263.01,348.47 263.51,349.28 264.00,350.08 264.49,350.89 264.97,351.69 265.43,352.50 265.89,353.30 266.33,354.11 266.75,354.92 267.14,355.72 267.50,356.53 267.82,357.33 268.12,358.14 268.38,358.94 268.61,359.75 268.79,360.56 268.93,361.36 269.00,362.17 269.03,362.97 269.01,363.78 268.96,364.58 268.87,365.39 268.75,366.19 268.59,367.00 268.38,367.81 268.13,368.61 267.84,369.42 267.53,370.22 267.19,371.03 266.83,371.83 266.44,372.64 266.03,373.45 265.61,374.25 265.18,375.06 264.74,375.86 264.28,376.67 263.82,377.47 263.36,378.28 262.89,379.09 262.42,379.89 261.96,380.70 261.49,381.50 261.03,382.31 260.57,383.11 260.13,383.92 259.71,384.73 259.32,385.53 258.95,386.34 258.61,387.14 258.31,387.95 258.05,388.75 257.85,389.56 257.70,390.37 257.59,391.17 257.51,391.98 257.46,392.78 257.42,393.59 257.39,394.39 257.38,395.20 L255.15,395.20 255.13,394.39 255.10,393.59 255.06,392.78 255.01,391.98 254.93,391.17 254.83,390.37 254.68,389.56 254.47,388.75 254.22,387.95 253.91,387.14 253.57,386.34 253.20,385.53 252.81,384.73 252.39,383.92 251.95,383.11 251.49,382.31 251.03,381.50 250.57,380.70 250.10,379.89 249.63,379.09 249.16,378.28 248.70,377.47 248.24,376.67 247.79,375.86 247.34,375.06 246.91,374.25 246.49,373.45 246.08,372.64 245.70,371.83 245.33,371.03 244.99,370.22 244.68,369.42 244.40,368.61 244.15,367.81 243.94,367.00 243.77,366.19 243.65,365.39 243.56,364.58 243.51,363.78 243.49,362.97 243.52,362.17 243.60,361.36 243.73,360.56 243.92,359.75 244.14,358.94 244.41,358.14 244.70,357.33 245.03,356.53 245.38,355.72 245.78,354.92 246.20,354.11 246.64,353.30 247.09,352.50 247.56,351.69 248.03,350.89 248.52,350.08 249.02,349.28 249.51,348.47 250.01,347.66 250.50,346.86 250.99,346.05 251.48,345.25 251.95,344.44 252.40,343.64 252.81,342.83 253.18,342.02 253.50,341.22 253.77,340.41 254.01,339.61 254.21,338.80 254.39,338.00 254.54,337.19 254.68,336.38 254.79,335.58 254.89,334.77 254.97,333.97 255.04,333.16 255.09,332.36 255.13,331.55Z" fill="#e377c2" stroke="#3d3d3d" stroke-width="1.15" stroke-linejoin="miter"/>
<line x1="256.26" y1="341.30" x2="256.26" y2="379.60" stroke="#3d3d3d" stroke-width="1.0"/>
<rect x="254.76" y="354.30" width="3" height="18.00" fill="#3d3d3d"/>
<circle cx="256.26" cy="363.30" r="0.65" fill="#e8e8e8"/>
<path d="M289.92,340.15 289.92,340.95 289.92,341.75 289.92,342.56 289.92,343.36 289.92,344.16 289.92,344.96 289.92,345.76 289.93,346.56 289.94,347.37 289.96,348.17 289.99,348.97 290.04,349.77 290.10,350.57 290.18,351.37 290.26,352.18 290.35,352.98 290.45,353.78 290.55,354.58 290.66,355.38 290.79,356.19 290.93,356.99 291.09,357.79 291.27,358.59 291.47,359.39 291.67,360.19 291.89,361.00 292.11,361.80 292.33,362.60 292.54,363.40 292.75,364.20 292.95,365.00 293.14,365.81 293.33,366.61 293.51,367.41 293.69,368.21 293.87,369.01 294.05,369.82 294.22,370.62 294.40,371.42 294.58,372.22 294.77,373.02 294.95,373.82 295.14,374.63 295.33,375.43 295.52,376.23 295.72,377.03 295.91,377.83 296.11,378.64 296.30,379.44 296.49,380.24 296.68,381.04 296.86,381.84 297.04,382.64 297.22,383.45 297.39,384.25 297.55,385.05 297.72,385.85 297.88,386.65 298.05,387.45 298.21,388.26 298.37,389.06 298.54,389.86 298.72,390.66 298.90,391.46 299.09,392.27 299.29,393.07 299.49,393.87 299.70,394.67 299.92,395.47 300.13,396.27 300.33,397.08 300.52,397.88 300.70,398.68 300.85,399.48 300.99,400.28 301.12,401.08 301.23,401.89 301.33,402.69 301.43,403.49 301.51,404.29 301.59,405.09 301.66,405.90 301.72,406.70 301.75,407.50 301.78,408.30 301.78,409.10 301.76,409.90 301.73,410.71 301.68,411.51 301.61,412.31 301.52,413.11 301.43,413.91 301.32,414.71 301.21,415.52 301.08,416.32 300.94,417.12 300.77,417.92 300.57,418.72 300.35,419.53 300.10,420.33 299.83,421.13 299.54,421.93 299.25,422.73 298.96,423.53 298.66,424.34 298.38,425.14 298.10,425.94 297.82,426.74 297.55,427.54 297.27,428.35 297.00,429.15 296.72,429.95 296.45,430.75 296.19,431.55 295.94,432.35 295.69,433.16 295.47,433.96 295.25,434.76 295.06,435.56 294.87,436.36 294.70,437.16 294.54,437.97 294.38,438.77 294.23,439.57 294.09,440.37 293.94,441.17 293.81,441.98 293.67,442.78 293.54,443.58 293.40,444.38 293.27,445.18 293.14,445.98 293.01,446.79 292.89,447.59 292.76,448.39 292.64,449.19 292.52,449.99 292.41,450.79 292.31,451.60 292.22,452.40 292.15,453.20 L285.69,453.20 285.62,452.40 285.53,451.60 285.42,450.79 285.31,449.99 285.19,449.19 285.07,448.39 284.95,447.59 284.82,446.79 284.69,445.98 284.56,445.18 284.43,444.38 284.30,443.58 284.16,442.78 284.03,441.98 283.89,441.17 283.75,440.37 283.60,439.57 283.45,438.77 283.30,437.97 283.13,437.16 282.96,436.36 282.78,435.56 282.58,434.76 282.37,433.96 282.14,433.16 281.90,432.35 281.64,431.55 281.38,430.75 281.11,429.95 280.84,429.15 280.56,428.35 280.29,427.54 280.01,426.74 279.74,425.94 279.46,425.14 279.17,424.34 278.88,423.53 278.58,422.73 278.29,421.93 278.01,421.13 277.74,420.33 277.49,419.53 277.26,418.72 277.07,417.92 276.90,417.12 276.75,416.32 276.62,415.52 276.51,414.71 276.40,413.91 276.31,413.11 276.23,412.31 276.16,411.51 276.10,410.71 276.07,409.90 276.05,409.10 276.06,408.30 276.08,407.50 276.12,406.70 276.17,405.90 276.24,405.09 276.32,404.29 276.41,403.49 276.50,402.69 276.60,401.89 276.71,401.08 276.84,400.28 276.98,399.48 277.14,398.68 277.31,397.88 277.51,397.08 277.71,396.27 277.92,395.47 278.13,394.67 278.34,393.87 278.55,393.07 278.75,392.27 278.93,391.46 279.12,390.66 279.29,389.86 279.46,389.06 279.62,388.26 279.79,387.45 279.95,386.65 280.11,385.85 280.28,385.05 280.45,384.25 280.62,383.45 280.79,382.64 280.97,381.84 281.16,381.04 281.34,380.24 281.54,379.44 281.73,378.64 281.92,377.83 282.12,377.03 282.31,376.23 282.50,375.43 282.69,374.63 282.88,373.82 283.07,373.02 283.25,372.22 283.43,371.42 283.61,370.62 283.79,369.82 283.97,369.01 284.14,368.21 284.32,367.41 284.51,366.61 284.69,365.81 284.88,365.00 285.08,364.20 285.29,363.40 285.50,362.60 285.72,361.80 285.94,361.00 286.16,360.19 286.37,359.39 286.56,358.59 286.74,357.79 286.90,356.99 287.04,356.19 287.17,355.38 287.28,354.58 287.39,353.78 287.48,352.98 287.58,352.18 287.66,351.37 287.73,350.57 287.79,349.77 287.84,348.97 287.87,348.17 287.90,347.37 287.91,346.56 287.91,345.76 287.92,344.96 287.92,344.16 287.92,343.36 287.92,342.56 287.92,341.75 287.92,340.95 287.92,340.15Z" fill="#7f7f7f" stroke="#3d3d3d" stroke-width="1.15" stroke-linejoin="miter"/>
<line x1="288.92" y1="371.40" x2="288.92" y2="453.20" stroke="#3d3d3d" stroke-width="1.0"/>
<rect x="287.42" y="388.00" width="3" height="34.00" fill="#3d3d3d"/>
<circle cx="288.92" cy="408.30" r="0.65" fill="#e8e8e8"/>
<path d="M328.24,318.05 328.60,318.86 329.03,319.66 329.47,320.47 329.87,321.28 330.21,322.09 330.48,322.89 330.67,323.70 330.79,324.51 330.84,325.32 330.82,326.12 330.75,326.93 330.65,327.74 330.53,328.55 330.40,329.35 330.26,330.16 330.13,330.97 330.02,331.77 329.94,332.58 329.93,333.39 329.99,334.20 330.14,335.00 330.36,335.81 330.64,336.62 330.94,337.43 331.26,338.23 331.58,339.04 331.91,339.85 332.23,340.66 332.54,341.46 332.83,342.27 333.10,343.08 333.34,343.88 333.56,344.69 333.76,345.50 333.94,346.31 334.10,347.11 334.23,347.92 334.32,348.73 334.37,349.54 334.36,350.34 334.31,351.15 334.20,351.96 334.05,352.77 333.86,353.57 333.62,354.38 333.32,355.19 332.97,355.99 332.58,356.80 332.14,357.61 331.67,358.42 331.16,359.22 330.63,360.03 330.07,360.84 329.49,361.65 328.89,362.45 328.30,363.26 327.74,364.07 327.20,364.88 326.68,365.68 326.20,366.49 325.73,367.30 325.30,368.10 324.91,368.91 324.55,369.72 324.22,370.53 323.93,371.33 323.66,372.14 323.43,372.95 323.24,373.76 323.08,374.56 322.96,375.37 322.86,376.18 322.79,376.99 322.73,377.79 322.70,378.60 L320.44,378.60 320.41,377.79 320.36,376.99 320.28,376.18 320.19,375.37 320.06,374.56 319.90,373.76 319.71,372.95 319.48,372.14 319.22,371.33 318.92,370.53 318.60,369.72 318.24,368.91 317.84,368.10 317.41,367.30 316.95,366.49 316.46,365.68 315.95,364.88 315.41,364.07 314.84,363.26 314.25,362.45 313.66,361.65 313.07,360.84 312.51,360.03 311.98,359.22 311.48,358.42 311.00,357.61 310.57,356.80 310.17,355.99 309.82,355.19 309.53,354.38 309.29,353.57 309.09,352.77 308.94,351.96 308.84,351.15 308.78,350.34 308.78,349.54 308.82,348.73 308.91,347.92 309.04,347.11 309.20,346.31 309.38,345.50 309.59,344.69 309.81,343.88 310.05,343.08 310.32,342.27 310.61,341.46 310.92,340.66 311.24,339.85 311.56,339.04 311.88,338.23 312.20,337.43 312.51,336.62 312.78,335.81 313.00,335.00 313.15,334.20 313.21,333.39 313.20,332.58 313.13,331.77 313.01,330.97 312.88,330.16 312.74,329.35 312.61,328.55 312.49,327.74 312.39,326.93 312.32,326.12 312.30,325.32 312.35,324.51 312.47,323.70 312.67,322.89 312.94,322.09 313.28,321.28 313.68,320.47 314.12,319.66 314.55,318.86 314.91,318.05Z" fill="#bcbd22" stroke="#3d3d3d" stroke-width="1.15" stroke-linejoin="miter"/>
<line x1="321.57" y1="318.05" x2="321.57" y2="378.60" stroke="#3d3d3d" stroke-width="1.0"/>
<rect x="320.07" y="324.20" width="3" height="31.40" fill="#3d3d3d"/>
<circle cx="321.57" cy="347.60" r="0.65" fill="#e8e8e8"/>
<rect x="44.00" y="287.60" width="293.90" height="173.60" fill="none" stroke="#000" stroke-width="0.8"/>
<g stroke="#000" stroke-width="0.8"><line x1="60.33" y1="461.20" x2="60.33" y2="464.60"/><line x1="92.98" y1="461.20" x2="92.98" y2="464.60"/><line x1="125.64" y1="461.20" x2="125.64" y2="464.60"/><line x1="158.29" y1="461.20" x2="158.29" y2="464.60"/><line x1="190.95" y1="461.20" x2="190.95" y2="464.60"/><line x1="223.61" y1="461.20" x2="223.61" y2="464.60"/><line x1="256.26" y1="461.20" x2="256.26" y2="464.60"/><line x1="288.92" y1="461.20" x2="288.92" y2="464.60"/><line x1="321.57" y1="461.20" x2="321.57" y2="464.60"/><line x1="40.60" y1="450.38" x2="44.00" y2="450.38"/><line x1="40.60" y1="416.11" x2="44.00" y2="416.11"/><line x1="40.60" y1="381.84" x2="44.00" y2="381.84"/><line x1="40.60" y1="347.57" x2="44.00" y2="347.57"/><line x1="40.60" y1="313.30" x2="44.00" y2="313.30"/></g>
<text x="37.20" y="454.58" font-size="10.30" text-anchor="end" textLength="21.64" lengthAdjust="spacingAndGlyphs">0.65</text>
<text x="37.20" y="420.31" font-size="10.30" text-anchor="end" textLength="21.64" lengthAdjust="spacingAndGlyphs">0.70</text>
<text x="37.20" y="386.04" font-size="10.30" text-anchor="end" textLength="21.64" lengthAdjust="spacingAndGlyphs">0.75</text>
<text x="37.20" y="351.77" font-size="10.30" text-anchor="end" textLength="21.64" lengthAdjust="spacingAndGlyphs">0.80</text>
<text x="37.20" y="317.50" font-size="10.30" text-anchor="end" textLength="21.64" lengthAdjust="spacingAndGlyphs">0.85</text>
<text transform="translate(62.93 468.40) rotate(-90)" font-size="9.75" text-anchor="end" textLength="61.63" lengthAdjust="spacingAndGlyphs">Logistic Reg.</text>
<text transform="translate(95.58 468.40) rotate(-90)" font-size="9.75" text-anchor="end" textLength="54.50" lengthAdjust="spacingAndGlyphs">Linear SVM</text>
<text transform="translate(128.24 468.40) rotate(-90)" font-size="9.75" text-anchor="end" textLength="43.31" lengthAdjust="spacingAndGlyphs">RBF SVM</text>
<text transform="translate(160.89 468.40) rotate(-90)" font-size="9.75" text-anchor="end" textLength="73.16" lengthAdjust="spacingAndGlyphs">Random Forest</text>
<text transform="translate(193.55 468.40) rotate(-90)" font-size="9.75" text-anchor="end" textLength="19.66" lengthAdjust="spacingAndGlyphs">MLP</text>
<text transform="translate(226.21 468.40) rotate(-90)" font-size="9.75" text-anchor="end" textLength="45.55" lengthAdjust="spacingAndGlyphs">Adaboost</text>
<text transform="translate(258.86 468.40) rotate(-90)" font-size="9.75" text-anchor="end" textLength="60.17" lengthAdjust="spacingAndGlyphs">Naïve Bayes</text>
<text transform="translate(291.52 468.40) rotate(-90)" font-size="9.75" text-anchor="end" textLength="21.61" lengthAdjust="spacingAndGlyphs">QDA</text>
<text transform="translate(324.17 468.40) rotate(-90)" font-size="9.75" text-anchor="end" textLength="19.38" lengthAdjust="spacingAndGlyphs">LDA</text>
<text transform="translate(9.60 374.40) rotate(-90)" font-size="9.75" text-anchor="middle" textLength="44.38" lengthAdjust="spacingAndGlyphs">Accuracy</text>
<text x="0.00" y="287.85" font-size="14.8" font-weight="bold" textLength="16.67" lengthAdjust="spacingAndGlyphs">C)</text>
<g stroke="#b0b0b0" stroke-width="0.8"><line x1="407.41" y1="287.60" x2="407.41" y2="461.30"/><line x1="440.02" y1="287.60" x2="440.02" y2="461.30"/><line x1="472.63" y1="287.60" x2="472.63" y2="461.30"/><line x1="505.24" y1="287.60" x2="505.24" y2="461.30"/><line x1="537.85" y1="287.60" x2="537.85" y2="461.30"/><line x1="570.46" y1="287.60" x2="570.46" y2="461.30"/><line x1="603.07" y1="287.60" x2="603.07" y2="461.30"/><line x1="635.68" y1="287.60" x2="635.68" y2="461.30"/><line x1="668.29" y1="287.60" x2="668.29" y2="461.30"/><line x1="391.10" y1="441.32" x2="684.60" y2="441.32"/><line x1="391.10" y1="408.54" x2="684.60" y2="408.54"/><line x1="391.10" y1="375.76" x2="684.60" y2="375.76"/><line x1="391.10" y1="342.98" x2="684.60" y2="342.98"/><line x1="391.10" y1="310.20" x2="684.60" y2="310.20"/></g>
<path d="M410.73,300.35 410.84,301.15 410.98,301.95 411.15,302.75 411.33,303.55 411.51,304.35 411.71,305.15 411.90,305.95 412.10,306.75 412.31,307.56 412.52,308.36 412.73,309.16 412.94,309.96 413.16,310.76 413.39,311.56 413.62,312.36 413.85,313.16 414.08,313.96 414.32,314.76 414.56,315.56 414.81,316.36 415.05,317.16 415.29,317.96 415.53,318.76 415.77,319.56 416.01,320.37 416.24,321.17 416.48,321.97 416.71,322.77 416.93,323.57 417.15,324.37 417.36,325.17 417.57,325.97 417.77,326.77 417.97,327.57 418.15,328.37 418.32,329.17 418.47,329.97 418.62,330.77 418.75,331.57 418.88,332.37 419.00,333.18 419.12,333.98 419.22,334.78 419.31,335.58 419.38,336.38 419.43,337.18 419.46,337.98 419.47,338.78 419.46,339.58 419.44,340.38 419.41,341.18 419.37,341.98 419.33,342.78 419.29,343.58 419.26,344.38 419.25,345.18 419.27,345.99 419.31,346.79 419.38,347.59 419.48,348.39 419.59,349.19 419.70,349.99 419.81,350.79 419.90,351.59 419.99,352.39 420.07,353.19 420.13,353.99 420.19,354.79 420.23,355.59 420.25,356.39 420.25,357.19 420.23,357.99 420.18,358.80 420.10,359.60 420.00,360.40 419.89,361.20 419.76,362.00 419.61,362.80 419.45,363.60 419.30,364.40 419.17,365.20 L395.64,365.20 395.52,364.40 395.36,363.60 395.20,362.80 395.06,362.00 394.92,361.20 394.81,360.40 394.71,359.60 394.64,358.80 394.58,357.99 394.56,357.19 394.56,356.39 394.58,355.59 394.62,354.79 394.68,353.99 394.74,353.19 394.82,352.39 394.91,351.59 395.01,350.79 395.11,349.99 395.23,349.19 395.33,348.39 395.43,347.59 395.50,346.79 395.54,345.99 395.56,345.18 395.55,344.38 395.52,343.58 395.48,342.78 395.44,341.98 395.41,341.18 395.37,340.38 395.35,339.58 395.34,338.78 395.35,337.98 395.38,337.18 395.43,336.38 395.51,335.58 395.59,334.78 395.70,333.98 395.81,333.18 395.93,332.37 396.06,331.57 396.19,330.77 396.34,329.97 396.49,329.17 396.66,328.37 396.85,327.57 397.04,326.77 397.24,325.97 397.45,325.17 397.66,324.37 397.88,323.57 398.10,322.77 398.33,321.97 398.57,321.17 398.80,320.37 399.04,319.56 399.28,318.76 399.52,317.96 399.76,317.16 400.00,316.36 400.25,315.56 400.49,314.76 400.73,313.96 400.96,313.16 401.20,312.36 401.42,311.56 401.65,310.76 401.87,309.96 402.08,309.16 402.30,308.36 402.50,307.56 402.71,306.75 402.91,305.95 403.10,305.15 403.30,304.35 403.48,303.55 403.66,302.75 403.83,301.95 403.97,301.15 404.08,300.35Z" fill="#1f77b4" stroke="#3d3d3d" stroke-width="1.15" stroke-linejoin="miter"/>
<line x1="407.41" y1="300.35" x2="407.41" y2="365.20" stroke="#3d3d3d" stroke-width="1.0"/>
<rect x="405.91" y="329.20" width="3" height="31.50" fill="#3d3d3d"/>
<circle cx="407.41" cy="338.50" r="0.65" fill="#e8e8e8"/>
<path d="M446.16,314.45 446.36,315.25 446.62,316.06 446.92,316.86 447.23,317.67 447.55,318.47 447.86,319.28 448.18,320.08 448.48,320.88 448.79,321.69 449.09,322.49 449.37,323.30 449.65,324.10 449.91,324.91 450.17,325.71 450.41,326.51 450.64,327.32 450.86,328.12 451.07,328.93 451.28,329.73 451.47,330.54 451.67,331.34 451.86,332.15 452.04,332.95 452.20,333.75 452.35,334.56 452.47,335.36 452.56,336.17 452.63,336.97 452.68,337.78 452.72,338.58 452.76,339.38 452.78,340.19 452.79,340.99 452.78,341.80 452.75,342.60 452.70,343.41 452.62,344.21 452.53,345.01 452.42,345.82 452.29,346.62 452.15,347.43 451.99,348.23 451.81,349.04 451.62,349.84 451.41,350.64 451.20,351.45 451.00,352.25 450.79,353.06 450.60,353.86 450.41,354.67 450.23,355.47 450.05,356.27 449.88,357.08 449.71,357.88 449.55,358.69 449.38,359.49 449.22,360.30 449.06,361.10 448.90,361.90 448.74,362.71 448.59,363.51 448.43,364.32 448.28,365.12 448.12,365.93 447.97,366.73 447.81,367.54 447.66,368.34 447.50,369.14 447.35,369.95 447.19,370.75 447.03,371.56 446.87,372.36 446.70,373.17 446.53,373.97 446.35,374.77 446.17,375.58 445.99,376.38 445.81,377.19 445.63,377.99 445.48,378.80 445.36,379.60 L434.67,379.60 434.55,378.80 434.40,377.99 434.23,377.19 434.04,376.38 433.86,375.58 433.68,374.77 433.50,373.97 433.33,373.17 433.17,372.36 433.00,371.56 432.84,370.75 432.69,369.95 432.53,369.14 432.37,368.34 432.22,367.54 432.06,366.73 431.91,365.93 431.75,365.12 431.60,364.32 431.45,363.51 431.29,362.71 431.13,361.90 430.97,361.10 430.81,360.30 430.65,359.49 430.49,358.69 430.32,357.88 430.15,357.08 429.98,356.27 429.80,355.47 429.62,354.67 429.44,353.86 429.24,353.06 429.04,352.25 428.83,351.45 428.62,350.64 428.41,349.84 428.22,349.04 428.05,348.23 427.89,347.43 427.74,346.62 427.62,345.82 427.51,345.01 427.41,344.21 427.33,343.41 427.28,342.60 427.26,341.80 427.25,340.99 427.26,340.19 427.28,339.38 427.31,338.58 427.35,337.78 427.40,336.97 427.47,336.17 427.57,335.36 427.69,334.56 427.83,333.75 428.00,332.95 428.18,332.15 428.37,331.34 428.56,330.54 428.76,329.73 428.96,328.93 429.17,328.12 429.40,327.32 429.63,326.51 429.87,325.71 430.12,324.91 430.38,324.10 430.66,323.30 430.95,322.49 431.25,321.69 431.55,320.88 431.86,320.08 432.17,319.28 432.48,318.47 432.80,317.67 433.11,316.86 433.41,316.06 433.67,315.25 433.87,314.45Z" fill="#ff7f0e" stroke="#3d3d3d" stroke-width="1.15" stroke-linejoin="miter"/>
<line x1="440.02" y1="314.45" x2="440.02" y2="379.60" stroke="#3d3d3d" stroke-width="1.0"/>
<rect x="438.52" y="331.20" width="3" height="32.30" fill="#3d3d3d"/>
<circle cx="440.02" cy="344.60" r="0.65" fill="#e8e8e8"/>
<path d="M473.79,295.65 473.80,296.45 473.82,297.25 473.84,298.05 473.88,298.86 473.92,299.66 473.97,300.46 474.03,301.26 474.10,302.06 474.19,302.86 474.30,303.66 474.44,304.46 474.59,305.27 474.75,306.07 474.94,306.87 475.13,307.67 475.33,308.47 475.55,309.27 475.78,310.07 476.04,310.87 476.31,311.68 476.60,312.48 476.90,313.28 477.22,314.08 477.54,314.88 477.85,315.68 478.17,316.48 478.48,317.28 478.80,318.09 479.11,318.89 479.42,319.69 479.74,320.49 480.05,321.29 480.36,322.09 480.66,322.89 480.96,323.69 481.24,324.50 481.53,325.30 481.81,326.10 482.08,326.90 482.35,327.70 482.61,328.50 482.86,329.30 483.10,330.10 483.34,330.91 483.56,331.71 483.78,332.51 483.99,333.31 484.20,334.11 484.41,334.91 484.60,335.71 484.78,336.51 484.94,337.32 485.06,338.12 485.16,338.92 485.21,339.72 485.24,340.52 485.24,341.32 485.23,342.12 485.21,342.92 485.17,343.73 485.14,344.53 485.09,345.33 485.04,346.13 484.99,346.93 484.94,347.73 484.88,348.53 484.82,349.34 484.76,350.14 484.69,350.94 484.61,351.74 484.53,352.54 484.44,353.34 484.34,354.14 484.23,354.94 484.12,355.75 484.00,356.55 483.88,357.35 483.76,358.15 483.63,358.95 483.49,359.75 483.35,360.55 483.20,361.35 483.04,362.16 482.87,362.96 482.70,363.76 482.52,364.56 482.33,365.36 482.14,366.16 481.95,366.96 481.75,367.76 481.55,368.57 481.36,369.37 481.16,370.17 480.96,370.97 480.76,371.77 480.55,372.57 480.34,373.37 480.13,374.17 479.92,374.98 479.71,375.78 479.50,376.58 479.29,377.38 479.08,378.18 478.87,378.98 478.66,379.78 478.46,380.58 478.25,381.39 478.05,382.19 477.85,382.99 477.65,383.79 477.45,384.59 477.25,385.39 477.06,386.19 476.86,386.99 476.67,387.80 476.49,388.60 476.34,389.40 476.22,390.20 L469.04,390.20 468.92,389.40 468.76,388.60 468.59,387.80 468.39,386.99 468.20,386.19 468.00,385.39 467.80,384.59 467.60,383.79 467.40,382.99 467.20,382.19 467.00,381.39 466.80,380.58 466.59,379.78 466.39,378.98 466.18,378.18 465.97,377.38 465.76,376.58 465.55,375.78 465.33,374.98 465.12,374.17 464.91,373.37 464.70,372.57 464.50,371.77 464.30,370.97 464.10,370.17 463.90,369.37 463.70,368.57 463.51,367.76 463.31,366.96 463.12,366.16 462.92,365.36 462.74,364.56 462.56,363.76 462.38,362.96 462.21,362.16 462.06,361.35 461.91,360.55 461.76,359.75 461.63,358.95 461.50,358.15 461.37,357.35 461.25,356.55 461.13,355.75 461.02,354.94 460.92,354.14 460.82,353.34 460.73,352.54 460.64,351.74 460.57,350.94 460.50,350.14 460.43,349.34 460.37,348.53 460.32,347.73 460.26,346.93 460.21,346.13 460.16,345.33 460.12,344.53 460.08,343.73 460.05,342.92 460.03,342.12 460.01,341.32 460.02,340.52 460.04,339.72 460.10,338.92 460.19,338.12 460.32,337.32 460.47,336.51 460.65,335.71 460.85,334.91 461.05,334.11 461.26,333.31 461.48,332.51 461.69,331.71 461.92,330.91 462.15,330.10 462.39,329.30 462.65,328.50 462.91,327.70 463.18,326.90 463.45,326.10 463.73,325.30 464.01,324.50 464.30,323.69 464.60,322.89 464.90,322.09 465.21,321.29 465.52,320.49 465.83,319.69 466.15,318.89 466.46,318.09 466.77,317.28 467.09,316.48 467.40,315.68 467.72,314.88 468.04,314.08 468.35,313.28 468.66,312.48 468.95,311.68 469.22,310.87 469.47,310.07 469.71,309.27 469.92,308.47 470.13,307.67 470.32,306.87 470.50,306.07 470.67,305.27 470.82,304.46 470.95,303.66 471.06,302.86 471.16,302.06 471.23,301.26 471.29,300.46 471.34,299.66 471.38,298.86 471.41,298.05 471.44,297.25 471.46,296.45 471.47,295.65Z" fill="#2ca02c" stroke="#3d3d3d" stroke-width="1.15" stroke-linejoin="miter"/>
<line x1="472.63" y1="295.65" x2="472.63" y2="390.20" stroke="#3d3d3d" stroke-width="1.0"/>
<rect x="471.13" y="335.20" width="3" height="32.20" fill="#3d3d3d"/>
<circle cx="472.63" cy="345.80" r="0.65" fill="#e8e8e8"/>
<path d="M509.43,299.75 509.55,300.55 509.70,301.36 509.88,302.16 510.06,302.96 510.25,303.77 510.44,304.57 510.63,305.37 510.81,306.18 510.99,306.98 511.18,307.78 511.36,308.58 511.54,309.39 511.72,310.19 511.90,310.99 512.08,311.80 512.26,312.60 512.44,313.40 512.63,314.21 512.81,315.01 513.00,315.81 513.19,316.62 513.38,317.42 513.57,318.22 513.76,319.03 513.96,319.83 514.14,320.63 514.33,321.44 514.51,322.24 514.69,323.04 514.87,323.85 515.04,324.65 515.21,325.45 515.38,326.25 515.55,327.06 515.71,327.86 515.87,328.66 516.03,329.47 516.18,330.27 516.32,331.07 516.45,331.88 516.58,332.68 516.70,333.48 516.82,334.29 516.93,335.09 517.03,335.89 517.14,336.70 517.24,337.50 517.33,338.30 517.41,339.11 517.49,339.91 517.57,340.71 517.63,341.52 517.69,342.32 517.74,343.12 517.79,343.92 517.84,344.73 517.89,345.53 517.93,346.33 517.97,347.14 518.01,347.94 518.04,348.74 518.07,349.55 518.09,350.35 518.11,351.15 518.12,351.96 518.11,352.76 518.10,353.56 518.06,354.37 518.01,355.17 517.94,355.97 517.85,356.78 517.76,357.58 517.65,358.38 517.53,359.19 517.41,359.99 517.29,360.79 517.16,361.59 517.03,362.40 516.89,363.20 516.73,364.00 516.57,364.81 516.40,365.61 516.22,366.41 516.04,367.22 515.85,368.02 515.66,368.82 515.47,369.63 515.28,370.43 515.08,371.23 514.89,372.04 514.69,372.84 514.49,373.64 514.29,374.45 514.08,375.25 513.88,376.05 513.68,376.86 513.48,377.66 513.29,378.46 513.10,379.26 512.92,380.07 512.74,380.87 512.57,381.67 512.40,382.48 512.23,383.28 512.07,384.08 511.91,384.89 511.75,385.69 511.61,386.49 511.49,387.30 511.40,388.10 L499.08,388.10 498.99,387.30 498.87,386.49 498.72,385.69 498.57,384.89 498.41,384.08 498.25,383.28 498.08,382.48 497.91,381.67 497.74,380.87 497.56,380.07 497.38,379.26 497.19,378.46 497.00,377.66 496.80,376.86 496.60,376.05 496.40,375.25 496.19,374.45 495.99,373.64 495.79,372.84 495.59,372.04 495.39,371.23 495.20,370.43 495.01,369.63 494.82,368.82 494.63,368.02 494.44,367.22 494.26,366.41 494.08,365.61 493.91,364.81 493.74,364.00 493.59,363.20 493.45,362.40 493.32,361.59 493.19,360.79 493.06,359.99 492.95,359.19 492.83,358.38 492.72,357.58 492.62,356.78 492.54,355.97 492.47,355.17 492.42,354.37 492.38,353.56 492.36,352.76 492.36,351.96 492.37,351.15 492.39,350.35 492.41,349.55 492.44,348.74 492.47,347.94 492.51,347.14 492.55,346.33 492.59,345.53 492.64,344.73 492.68,343.92 492.74,343.12 492.79,342.32 492.85,341.52 492.91,340.71 492.98,339.91 493.06,339.11 493.15,338.30 493.24,337.50 493.34,336.70 493.44,335.89 493.55,335.09 493.66,334.29 493.78,333.48 493.90,332.68 494.03,331.88 494.16,331.07 494.30,330.27 494.45,329.47 494.61,328.66 494.77,327.86 494.93,327.06 495.10,326.25 495.27,325.45 495.44,324.65 495.61,323.85 495.79,323.04 495.97,322.24 496.15,321.44 496.33,320.63 496.52,319.83 496.71,319.03 496.90,318.22 497.10,317.42 497.29,316.62 497.48,315.81 497.67,315.01 497.85,314.21 498.04,313.40 498.22,312.60 498.40,311.80 498.58,310.99 498.76,310.19 498.94,309.39 499.12,308.58 499.30,307.78 499.48,306.98 499.67,306.18 499.85,305.37 500.04,304.57 500.23,303.77 500.42,302.96 500.60,302.16 500.78,301.36 500.93,300.55 501.05,299.75Z" fill="#d62728" stroke="#3d3d3d" stroke-width="1.15" stroke-linejoin="miter"/>
<line x1="505.24" y1="299.75" x2="505.24" y2="388.10" stroke="#3d3d3d" stroke-width="1.0"/>
<rect x="503.74" y="328.20" width="3" height="39.30" fill="#3d3d3d"/>
<circle cx="505.24" cy="350.40" r="0.65" fill="#e8e8e8"/>
<path d="M540.28,300.95 540.43,301.76 540.62,302.56 540.85,303.37 541.10,304.18 541.36,304.98 541.63,305.79 541.90,306.60 542.18,307.41 542.46,308.21 542.75,309.02 543.04,309.83 543.34,310.63 543.64,311.44 543.93,312.25 544.22,313.05 544.51,313.86 544.80,314.67 545.09,315.47 545.38,316.28 545.67,317.09 545.96,317.90 546.25,318.70 546.53,319.51 546.80,320.32 547.06,321.12 547.31,321.93 547.54,322.74 547.76,323.54 547.97,324.35 548.16,325.16 548.35,325.97 548.52,326.77 548.69,327.58 548.85,328.39 549.01,329.19 549.15,330.00 549.28,330.81 549.41,331.61 549.52,332.42 549.63,333.23 549.73,334.03 549.82,334.84 549.91,335.65 549.99,336.46 550.07,337.26 550.15,338.07 550.22,338.88 550.30,339.68 550.37,340.49 550.45,341.30 550.53,342.10 550.61,342.91 550.68,343.72 550.74,344.52 550.79,345.33 550.81,346.14 550.82,346.95 550.80,347.75 550.78,348.56 550.75,349.37 550.71,350.17 550.66,350.98 550.61,351.79 550.56,352.59 550.50,353.40 550.44,354.21 550.37,355.02 550.29,355.82 550.20,356.63 550.11,357.44 550.02,358.24 549.91,359.05 549.81,359.86 549.70,360.66 549.59,361.47 549.48,362.28 549.36,363.08 549.24,363.89 549.12,364.70 548.99,365.51 548.86,366.31 548.71,367.12 548.57,367.93 548.42,368.73 548.25,369.54 548.08,370.35 547.90,371.15 547.70,371.96 547.49,372.77 547.27,373.57 547.04,374.38 546.80,375.19 546.56,376.00 546.32,376.80 546.09,377.61 545.86,378.42 545.64,379.22 545.43,380.03 545.22,380.84 545.02,381.64 544.83,382.45 544.63,383.26 544.45,384.07 544.26,384.87 544.09,385.68 543.92,386.49 543.78,387.29 543.68,388.10 L532.02,388.10 531.92,387.29 531.78,386.49 531.61,385.68 531.44,384.87 531.25,384.07 531.07,383.26 530.87,382.45 530.68,381.64 530.48,380.84 530.27,380.03 530.06,379.22 529.84,378.42 529.61,377.61 529.38,376.80 529.14,376.00 528.90,375.19 528.66,374.38 528.43,373.57 528.21,372.77 528.00,371.96 527.80,371.15 527.62,370.35 527.45,369.54 527.28,368.73 527.13,367.93 526.99,367.12 526.84,366.31 526.71,365.51 526.58,364.70 526.46,363.89 526.34,363.08 526.22,362.28 526.11,361.47 526.00,360.66 525.89,359.86 525.79,359.05 525.68,358.24 525.59,357.44 525.50,356.63 525.41,355.82 525.33,355.02 525.26,354.21 525.20,353.40 525.14,352.59 525.09,351.79 525.04,350.98 524.99,350.17 524.95,349.37 524.92,348.56 524.90,347.75 524.88,346.95 524.89,346.14 524.91,345.33 524.96,344.52 525.02,343.72 525.09,342.91 525.17,342.10 525.25,341.30 525.33,340.49 525.40,339.68 525.48,338.88 525.55,338.07 525.63,337.26 525.71,336.46 525.79,335.65 525.88,334.84 525.97,334.03 526.07,333.23 526.18,332.42 526.29,331.61 526.42,330.81 526.55,330.00 526.69,329.19 526.85,328.39 527.01,327.58 527.18,326.77 527.35,325.97 527.54,325.16 527.73,324.35 527.94,323.54 528.16,322.74 528.39,321.93 528.64,321.12 528.90,320.32 529.17,319.51 529.45,318.70 529.74,317.90 530.03,317.09 530.32,316.28 530.61,315.47 530.90,314.67 531.19,313.86 531.48,313.05 531.77,312.25 532.06,311.44 532.36,310.63 532.66,309.83 532.95,309.02 533.24,308.21 533.52,307.41 533.80,306.60 534.07,305.79 534.34,304.98 534.60,304.18 534.85,303.37 535.08,302.56 535.27,301.76 535.42,300.95Z" fill="#9467bd" stroke="#3d3d3d" stroke-width="1.15" stroke-linejoin="miter"/>
<line x1="537.85" y1="300.95" x2="537.85" y2="388.10" stroke="#3d3d3d" stroke-width="1.0"/>
<rect x="536.35" y="331.20" width="3" height="39.30" fill="#3d3d3d"/>
<circle cx="537.85" cy="351.50" r="0.65" fill="#e8e8e8"/>
<path d="M575.92,313.55 576.14,314.35 576.41,315.16 576.72,315.96 577.04,316.76 577.35,317.57 577.65,318.37 577.94,319.18 578.23,319.98 578.50,320.78 578.76,321.59 579.02,322.39 579.27,323.19 579.51,324.00 579.75,324.80 579.99,325.61 580.21,326.41 580.44,327.21 580.66,328.02 580.87,328.82 581.08,329.62 581.28,330.43 581.47,331.23 581.64,332.03 581.81,332.84 581.96,333.64 582.10,334.45 582.23,335.25 582.36,336.05 582.48,336.86 582.59,337.66 582.69,338.46 582.78,339.27 582.86,340.07 582.93,340.88 582.99,341.68 583.04,342.48 583.08,343.29 583.12,344.09 583.16,344.89 583.19,345.70 583.21,346.50 583.23,347.30 583.24,348.11 583.24,348.91 583.23,349.72 583.20,350.52 583.17,351.32 583.12,352.13 583.06,352.93 583.00,353.73 582.93,354.54 582.85,355.34 582.77,356.15 582.69,356.95 582.61,357.75 582.52,358.56 582.42,359.36 582.31,360.16 582.20,360.97 582.08,361.77 581.96,362.57 581.84,363.38 581.71,364.18 581.59,364.99 581.48,365.79 581.36,366.59 581.25,367.40 581.14,368.20 581.03,369.00 580.91,369.81 580.79,370.61 580.67,371.42 580.53,372.22 580.39,373.02 580.23,373.83 580.06,374.63 579.88,375.43 579.69,376.24 579.49,377.04 579.28,377.84 579.07,378.65 578.85,379.45 578.64,380.26 578.43,381.06 578.21,381.86 578.00,382.67 577.79,383.47 577.58,384.27 577.37,385.08 577.15,385.88 576.94,386.69 576.73,387.49 576.53,388.29 576.35,389.10 576.22,389.90 L564.70,389.90 564.57,389.10 564.39,388.29 564.20,387.49 563.98,386.69 563.77,385.88 563.56,385.08 563.34,384.27 563.13,383.47 562.92,382.67 562.71,381.86 562.50,381.06 562.28,380.26 562.07,379.45 561.86,378.65 561.64,377.84 561.43,377.04 561.23,376.24 561.04,375.43 560.86,374.63 560.69,373.83 560.53,373.02 560.39,372.22 560.26,371.42 560.13,370.61 560.01,369.81 559.90,369.00 559.78,368.20 559.67,367.40 559.56,366.59 559.45,365.79 559.33,364.99 559.21,364.18 559.08,363.38 558.96,362.57 558.84,361.77 558.72,360.97 558.61,360.16 558.50,359.36 558.41,358.56 558.32,357.75 558.23,356.95 558.15,356.15 558.07,355.34 558.00,354.54 557.93,353.73 557.86,352.93 557.80,352.13 557.76,351.32 557.72,350.52 557.70,349.72 557.68,348.91 557.68,348.11 557.69,347.30 557.71,346.50 557.73,345.70 557.76,344.89 557.80,344.09 557.84,343.29 557.89,342.48 557.94,341.68 557.99,340.88 558.06,340.07 558.14,339.27 558.23,338.46 558.33,337.66 558.44,336.86 558.56,336.05 558.69,335.25 558.82,334.45 558.97,333.64 559.12,332.84 559.28,332.03 559.45,331.23 559.64,330.43 559.84,329.62 560.05,328.82 560.26,328.02 560.48,327.21 560.71,326.41 560.94,325.61 561.17,324.80 561.41,324.00 561.65,323.19 561.90,322.39 562.16,321.59 562.42,320.78 562.70,319.98 562.98,319.18 563.27,318.37 563.57,317.57 563.89,316.76 564.20,315.96 564.51,315.16 564.79,314.35 565.00,313.55Z" fill="#8c564b" stroke="#3d3d3d" stroke-width="1.15" stroke-linejoin="miter"/>
<line x1="570.46" y1="313.55" x2="570.46" y2="389.90" stroke="#3d3d3d" stroke-width="1.0"/>
<rect x="568.96" y="333.10" width="3" height="41.70" fill="#3d3d3d"/>
<circle cx="570.46" cy="351.20" r="0.65" fill="#e8e8e8"/>
<path d="M604.29,329.45 604.32,330.26 604.36,331.06 604.42,331.87 604.49,332.68 604.59,333.48 604.71,334.29 604.85,335.10 605.03,335.90 605.24,336.71 605.49,337.52 605.77,338.32 606.07,339.13 606.40,339.94 606.77,340.74 607.17,341.55 607.60,342.36 608.05,343.16 608.51,343.97 608.98,344.78 609.44,345.58 609.89,346.39 610.33,347.20 610.77,348.00 611.20,348.81 611.62,349.62 612.02,350.42 612.41,351.23 612.79,352.04 613.16,352.84 613.51,353.65 613.84,354.46 614.16,355.26 614.46,356.07 614.75,356.88 615.02,357.68 615.28,358.49 615.50,359.30 615.68,360.10 615.80,360.91 615.85,361.72 615.85,362.52 615.79,363.33 615.68,364.13 615.53,364.94 615.33,365.75 615.08,366.55 614.78,367.36 614.43,368.17 614.06,368.97 613.66,369.78 613.24,370.59 612.81,371.39 612.37,372.20 611.91,373.01 611.45,373.81 610.99,374.62 610.53,375.43 610.06,376.23 609.60,377.04 609.14,377.85 608.69,378.65 608.25,379.46 607.82,380.27 607.40,381.07 607.00,381.88 606.61,382.69 606.24,383.49 605.89,384.30 605.58,385.11 605.30,385.91 605.05,386.72 604.83,387.53 604.65,388.33 604.49,389.14 604.36,389.95 604.26,390.75 604.20,391.56 604.15,392.37 604.12,393.17 604.10,393.98 604.09,394.79 604.08,395.59 604.08,396.40 L602.07,396.40 602.06,395.59 602.05,394.79 602.04,393.98 602.02,393.17 601.99,392.37 601.95,391.56 601.88,390.75 601.79,389.95 601.66,389.14 601.50,388.33 601.31,387.53 601.09,386.72 600.85,385.91 600.57,385.11 600.25,384.30 599.91,383.49 599.54,382.69 599.15,381.88 598.74,381.07 598.33,380.27 597.90,379.46 597.46,378.65 597.00,377.85 596.54,377.04 596.08,376.23 595.62,375.43 595.15,374.62 594.69,373.81 594.23,373.01 593.78,372.20 593.33,371.39 592.90,370.59 592.49,369.78 592.09,368.97 591.71,368.17 591.37,367.36 591.06,366.55 590.81,365.75 590.61,364.94 590.46,364.13 590.36,363.33 590.30,362.52 590.29,361.72 590.34,360.91 590.46,360.10 590.64,359.30 590.87,358.49 591.12,357.68 591.39,356.88 591.68,356.07 591.98,355.26 592.30,354.46 592.64,353.65 592.99,352.84 593.35,352.04 593.73,351.23 594.12,350.42 594.53,349.62 594.95,348.81 595.37,348.00 595.81,347.20 596.26,346.39 596.71,345.58 597.17,344.78 597.63,343.97 598.10,343.16 598.55,342.36 598.98,341.55 599.38,340.74 599.74,339.94 600.07,339.13 600.38,338.32 600.65,337.52 600.90,336.71 601.11,335.90 601.29,335.10 601.44,334.29 601.56,333.48 601.65,332.68 601.73,331.87 601.78,331.06 601.82,330.26 601.85,329.45Z" fill="#e377c2" stroke="#3d3d3d" stroke-width="1.15" stroke-linejoin="miter"/>
<line x1="603.07" y1="329.45" x2="603.07" y2="380.70" stroke="#3d3d3d" stroke-width="1.0"/>
<rect x="601.57" y="352.10" width="3" height="18.40" fill="#3d3d3d"/>
<circle cx="603.07" cy="361.80" r="0.65" fill="#e8e8e8"/>
<path d="M636.68,338.45 636.68,339.25 636.68,340.05 636.68,340.86 636.68,341.66 636.68,342.46 636.68,343.26 636.68,344.07 636.69,344.87 636.69,345.67 636.70,346.47 636.72,347.28 636.75,348.08 636.80,348.88 636.86,349.68 636.94,350.49 637.02,351.29 637.11,352.09 637.21,352.89 637.32,353.70 637.44,354.50 637.56,355.30 637.70,356.10 637.85,356.91 638.02,357.71 638.20,358.51 638.41,359.31 638.62,360.12 638.84,360.92 639.07,361.72 639.29,362.52 639.51,363.33 639.72,364.13 639.93,364.93 640.13,365.73 640.32,366.54 640.51,367.34 640.70,368.14 640.88,368.94 641.07,369.75 641.26,370.55 641.44,371.35 641.63,372.15 641.81,372.96 642.00,373.76 642.19,374.56 642.37,375.36 642.56,376.17 642.75,376.97 642.94,377.77 643.12,378.57 643.31,379.37 643.50,380.18 643.69,380.98 643.87,381.78 644.06,382.58 644.25,383.39 644.45,384.19 644.64,384.99 644.84,385.79 645.03,386.60 645.23,387.40 645.42,388.20 645.62,389.00 645.81,389.81 646.00,390.61 646.19,391.41 646.38,392.21 646.56,393.02 646.73,393.82 646.90,394.62 647.07,395.42 647.24,396.23 647.40,397.03 647.55,397.83 647.70,398.63 647.84,399.44 647.97,400.24 648.09,401.04 648.21,401.84 648.32,402.65 648.42,403.45 648.52,404.25 648.60,405.05 648.67,405.86 648.71,406.66 648.73,407.46 648.73,408.26 648.70,409.07 648.64,409.87 648.56,410.67 648.47,411.47 648.35,412.28 648.22,413.08 648.08,413.88 647.93,414.68 647.76,415.48 647.59,416.29 647.39,417.09 647.17,417.89 646.91,418.69 646.63,419.50 646.31,420.30 645.98,421.10 645.63,421.90 645.27,422.71 644.92,423.51 644.58,424.31 644.25,425.11 643.94,425.92 643.64,426.72 643.36,427.52 643.08,428.32 642.80,429.13 642.53,429.93 642.27,430.73 642.02,431.53 641.77,432.34 641.54,433.14 641.32,433.94 641.12,434.74 640.92,435.55 640.74,436.35 640.56,437.15 640.39,437.95 640.23,438.76 640.07,439.56 639.93,440.36 639.78,441.16 639.65,441.97 639.52,442.77 639.40,443.57 639.28,444.37 639.17,445.18 639.06,445.98 638.96,446.78 638.86,447.58 638.76,448.39 638.67,449.19 638.58,449.99 638.51,450.79 638.43,451.60 638.38,452.40 638.33,453.20 L633.03,453.20 632.99,452.40 632.93,451.60 632.86,450.79 632.78,449.99 632.70,449.19 632.61,448.39 632.51,447.58 632.41,446.78 632.31,445.98 632.20,445.18 632.09,444.37 631.97,443.57 631.85,442.77 631.72,441.97 631.58,441.16 631.44,440.36 631.29,439.56 631.14,438.76 630.98,437.95 630.81,437.15 630.63,436.35 630.45,435.55 630.25,434.74 630.04,433.94 629.82,433.14 629.59,432.34 629.35,431.53 629.10,430.73 628.83,429.93 628.56,429.13 628.29,428.32 628.01,427.52 627.72,426.72 627.42,425.92 627.11,425.11 626.79,424.31 626.44,423.51 626.09,422.71 625.74,421.90 625.39,421.10 625.05,420.30 624.74,419.50 624.45,418.69 624.20,417.89 623.98,417.09 623.78,416.29 623.60,415.48 623.44,414.68 623.29,413.88 623.15,413.08 623.02,412.28 622.90,411.47 622.80,410.67 622.72,409.87 622.67,409.07 622.64,408.26 622.63,407.46 622.65,406.66 622.70,405.86 622.76,405.05 622.85,404.25 622.94,403.45 623.05,402.65 623.16,401.84 623.27,401.04 623.40,400.24 623.53,399.44 623.66,398.63 623.81,397.83 623.97,397.03 624.13,396.23 624.29,395.42 624.46,394.62 624.63,393.82 624.81,393.02 624.99,392.21 625.17,391.41 625.36,390.61 625.55,389.81 625.75,389.00 625.94,388.20 626.14,387.40 626.33,386.60 626.53,385.79 626.73,384.99 626.92,384.19 627.11,383.39 627.30,382.58 627.49,381.78 627.68,380.98 627.87,380.18 628.06,379.37 628.24,378.57 628.43,377.77 628.62,376.97 628.80,376.17 628.99,375.36 629.18,374.56 629.37,373.76 629.55,372.96 629.74,372.15 629.92,371.35 630.11,370.55 630.30,369.75 630.48,368.94 630.67,368.14 630.86,367.34 631.05,366.54 631.24,365.73 631.44,364.93 631.64,364.13 631.86,363.33 632.08,362.52 632.30,361.72 632.52,360.92 632.75,360.12 632.96,359.31 633.16,358.51 633.35,357.71 633.52,356.91 633.67,356.10 633.81,355.30 633.93,354.50 634.04,353.70 634.15,352.89 634.25,352.09 634.35,351.29 634.43,350.49 634.50,349.68 634.57,348.88 634.61,348.08 634.64,347.28 634.67,346.47 634.68,345.67 634.68,344.87 634.68,344.07 634.68,343.26 634.68,342.46 634.68,341.66 634.68,340.86 634.68,340.05 634.68,339.25 634.68,338.45Z" fill="#7f7f7f" stroke="#3d3d3d" stroke-width="1.15" stroke-linejoin="miter"/>
<line x1="635.68" y1="368.80" x2="635.68" y2="453.20" stroke="#3d3d3d" stroke-width="1.0"/>
<rect x="634.18" y="385.90" width="3" height="31.00" fill="#3d3d3d"/>
<circle cx="635.68" cy="405.40" r="0.65" fill="#e8e8e8"/>
<path d="M675.40,316.45 675.71,317.26 676.07,318.07 676.43,318.88 676.74,319.69 676.97,320.50 677.15,321.31 677.28,322.12 677.36,322.93 677.41,323.74 677.41,324.55 677.38,325.36 677.31,326.17 677.20,326.98 677.07,327.79 676.92,328.60 676.74,329.41 676.55,330.22 676.36,331.03 676.20,331.85 676.12,332.66 676.15,333.47 676.27,334.28 676.50,335.09 676.80,335.90 677.15,336.71 677.53,337.52 677.92,338.33 678.33,339.14 678.73,339.95 679.14,340.76 679.52,341.57 679.88,342.38 680.19,343.19 680.47,344.00 680.72,344.81 680.92,345.62 681.07,346.43 681.17,347.24 681.19,348.05 681.12,348.86 680.98,349.67 680.77,350.48 680.50,351.29 680.17,352.10 679.78,352.91 679.32,353.72 678.80,354.53 678.24,355.34 677.64,356.15 677.04,356.96 676.44,357.77 675.85,358.58 675.27,359.39 674.70,360.20 674.15,361.02 673.62,361.83 673.12,362.64 672.64,363.45 672.19,364.26 671.76,365.07 671.37,365.88 671.01,366.69 670.69,367.50 670.41,368.31 670.16,369.12 669.94,369.93 669.76,370.74 669.62,371.55 669.51,372.36 669.43,373.17 669.37,373.98 669.34,374.79 669.31,375.60 L667.27,375.60 667.25,374.79 667.21,373.98 667.16,373.17 667.08,372.36 666.97,371.55 666.83,370.74 666.65,369.93 666.43,369.12 666.18,368.31 665.90,367.50 665.58,366.69 665.22,365.88 664.83,365.07 664.40,364.26 663.95,363.45 663.47,362.64 662.97,361.83 662.44,361.02 661.89,360.20 661.32,359.39 660.74,358.58 660.15,357.77 659.55,356.96 658.95,356.15 658.35,355.34 657.79,354.53 657.27,353.72 656.81,352.91 656.42,352.10 656.09,351.29 655.82,350.48 655.61,349.67 655.46,348.86 655.40,348.05 655.42,347.24 655.51,346.43 655.67,345.62 655.87,344.81 656.12,344.00 656.40,343.19 656.71,342.38 657.07,341.57 657.45,340.76 657.86,339.95 658.26,339.14 658.67,338.33 659.06,337.52 659.44,336.71 659.79,335.90 660.09,335.09 660.31,334.28 660.44,333.47 660.46,332.66 660.39,331.85 660.23,331.03 660.04,330.22 659.85,329.41 659.67,328.60 659.51,327.79 659.38,326.98 659.28,326.17 659.21,325.36 659.17,324.55 659.18,323.74 659.23,322.93 659.31,322.12 659.44,321.31 659.61,320.50 659.85,319.69 660.16,318.88 660.52,318.07 660.88,317.26 661.19,316.45Z" fill="#bcbd22" stroke="#3d3d3d" stroke-width="1.15" stroke-linejoin="miter"/>
<line x1="668.29" y1="316.45" x2="668.29" y2="375.60" stroke="#3d3d3d" stroke-width="1.0"/>
<rect x="666.79" y="322.30" width="3" height="30.10" fill="#3d3d3d"/>
<circle cx="668.29" cy="344.40" r="0.65" fill="#e8e8e8"/>
<rect x="391.10" y="287.60" width="293.50" height="173.70" fill="none" stroke="#000" stroke-width="0.8"/>
<g stroke="#000" stroke-width="0.8"><line x1="407.41" y1="461.30" x2="407.41" y2="464.70"/><line x1="440.02" y1="461.30" x2="440.02" y2="464.70"/><line x1="472.63" y1="461.30" x2="472.63" y2="464.70"/><line x1="505.24" y1="461.30" x2="505.24" y2="464.70"/><line x1="537.85" y1="461.30" x2="537.85" y2="464.70"/><line x1="570.46" y1="461.30" x2="570.46" y2="464.70"/><line x1="603.07" y1="461.30" x2="603.07" y2="464.70"/><line x1="635.68" y1="461.30" x2="635.68" y2="464.70"/><line x1="668.29" y1="461.30" x2="668.29" y2="464.70"/><line x1="387.70" y1="441.32" x2="391.10" y2="441.32"/><line x1="387.70" y1="408.54" x2="391.10" y2="408.54"/><line x1="387.70" y1="375.76" x2="391.10" y2="375.76"/><line x1="387.70" y1="342.98" x2="391.10" y2="342.98"/><line x1="387.70" y1="310.20" x2="391.10" y2="310.20"/></g>
<text x="384.30" y="445.52" font-size="10.30" text-anchor="end" textLength="15.46" lengthAdjust="spacingAndGlyphs">0.3</text>
<text x="384.30" y="412.74" font-size="10.30" text-anchor="end" textLength="15.46" lengthAdjust="spacingAndGlyphs">0.4</text>
<text x="384.30" y="379.96" font-size="10.30" text-anchor="end" textLength="15.46" lengthAdjust="spacingAndGlyphs">0.5</text>
<text x="384.30" y="347.18" font-size="10.30" text-anchor="end" textLength="15.46" lengthAdjust="spacingAndGlyphs">0.6</text>
<text x="384.30" y="314.40" font-size="10.30" text-anchor="end" textLength="15.46" lengthAdjust="spacingAndGlyphs">0.7</text>
<text transform="translate(410.01 468.50) rotate(-90)" font-size="9.75" text-anchor="end" textLength="61.63" lengthAdjust="spacingAndGlyphs">Logistic Reg.</text>
<text transform="translate(442.62 468.50) rotate(-90)" font-size="9.75" text-anchor="end" textLength="54.50" lengthAdjust="spacingAndGlyphs">Linear SVM</text>
<text transform="translate(475.23 468.50) rotate(-90)" font-size="9.75" text-anchor="end" textLength="43.31" lengthAdjust="spacingAndGlyphs">RBF SVM</text>
<text transform="translate(507.84 468.50) rotate(-90)" font-size="9.75" text-anchor="end" textLength="73.16" lengthAdjust="spacingAndGlyphs">Random Forest</text>
<text transform="translate(540.45 468.50) rotate(-90)" font-size="9.75" text-anchor="end" textLength="19.66" lengthAdjust="spacingAndGlyphs">MLP</text>
<text transform="translate(573.06 468.50) rotate(-90)" font-size="9.75" text-anchor="end" textLength="45.55" lengthAdjust="spacingAndGlyphs">Adaboost</text>
<text transform="translate(605.67 468.50) rotate(-90)" font-size="9.75" text-anchor="end" textLength="60.17" lengthAdjust="spacingAndGlyphs">Naïve Bayes</text>
<text transform="translate(638.28 468.50) rotate(-90)" font-size="9.75" text-anchor="end" textLength="21.61" lengthAdjust="spacingAndGlyphs">QDA</text>
<text transform="translate(670.89 468.50) rotate(-90)" font-size="9.75" text-anchor="end" textLength="19.38" lengthAdjust="spacingAndGlyphs">LDA</text>
<text transform="translate(362.60 374.45) rotate(-90)" font-size="9.75" text-anchor="middle" textLength="102.63" lengthAdjust="spacingAndGlyphs">Cohen's Kappa Score</text>
<text x="347.40" y="287.85" font-size="14.8" font-weight="bold" textLength="18.02" lengthAdjust="spacingAndGlyphs">D)</text>
</svg></body></html>
